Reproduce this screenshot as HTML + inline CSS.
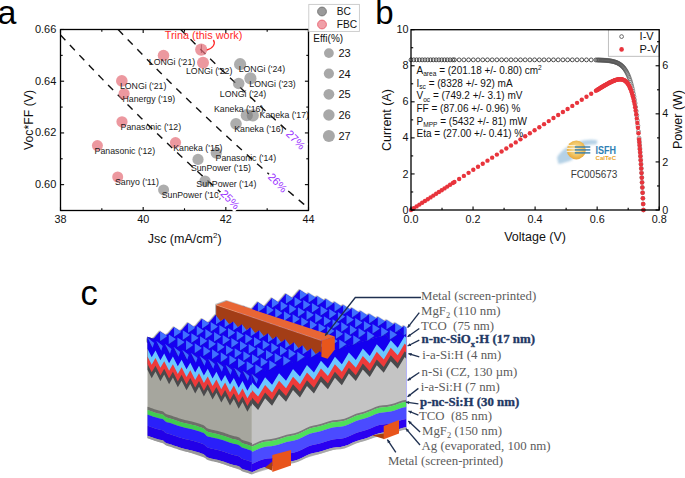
<!DOCTYPE html>
<html><head><meta charset="utf-8"><style>
html,body{margin:0;padding:0;background:#fff;}
svg{display:block;font-family:"Liberation Sans", sans-serif;}
</style></head><body>
<svg width="685" height="478" viewBox="0 0 685 478">
<rect width="685" height="478" fill="#fff"/>
<text x="-2.6" y="23.9" font-size="34" fill="#000">a</text>
<polyline points="60.5,34.94 64.74,39.52 68.97,44.07 73.21,48.6 77.45,53.1 81.68,57.58 85.92,62.04 90.16,66.47 94.39,70.88 98.63,75.26 102.87,79.62 107.1,83.96 111.34,88.28 115.58,92.57 119.81,96.85 124.05,101.1 128.29,105.32 132.52,109.53 136.76,113.71 141,117.88 145.23,122.02 149.47,126.14 153.71,130.24 157.94,134.32 162.18,138.37 166.42,142.41 170.65,146.43 174.89,150.42 179.13,154.4 183.36,158.36 187.6,162.3 191.84,166.21 196.07,170.11 200.31,173.99 204.55,177.85 208.78,181.69 213.02,185.51 217.26,189.31 221.49,193.1 225.73,196.86 229.97,200.61" fill="none" stroke="#111" stroke-width="1.4" stroke-dasharray="7.2 6.6"/>
<polyline points="118.12,29.5 122.88,34.47 127.64,39.42 132.39,44.34 137.15,49.22 141.91,54.08 146.67,58.91 151.43,63.72 156.19,68.5 160.95,73.25 165.71,77.97 170.47,82.66 175.23,87.33 179.99,91.98 184.75,96.59 189.51,101.18 194.27,105.75 199.03,110.29 203.79,114.8 208.55,119.29 213.31,123.76 218.07,128.2 222.83,132.61 227.59,137.01 232.35,141.37 237.11,145.72 241.87,150.04 246.63,154.34 251.38,158.61 256.14,162.86 260.9,167.09 265.66,171.29 270.42,175.48 275.18,179.64 279.94,183.77 284.7,187.89 289.46,191.99 294.22,196.06 298.98,200.11 303.74,204.14 308.5,208.15" fill="none" stroke="#111" stroke-width="1.4" stroke-dasharray="7.2 6.6"/>
<polyline points="180.74,29.5 183.63,32.41 186.51,35.3 189.39,38.19 192.28,41.06 195.16,43.93 198.05,46.79 200.93,49.63 203.81,52.47 206.7,55.3 209.58,58.12 212.47,60.93 215.35,63.73 218.23,66.52 221.12,69.3 224,72.07 226.89,74.83 229.77,77.59 232.65,80.33 235.54,83.07 238.42,85.79 241.31,88.51 244.19,91.22 247.07,93.92 249.96,96.61 252.84,99.29 255.72,101.96 258.61,104.63 261.49,107.28 264.38,109.93 267.26,112.57 270.14,115.2 273.03,117.82 275.91,120.43 278.8,123.04 281.68,125.63 284.56,128.22 287.45,130.8 290.33,133.37 293.22,135.94 296.1,138.49" fill="none" stroke="#111" stroke-width="1.4" stroke-dasharray="7.2 6.6"/>
<circle cx="240.1" cy="64.2" r="6.1" fill="#7a7a7a" fill-opacity="0.62"/>
<circle cx="250.4" cy="78.4" r="6.1" fill="#7a7a7a" fill-opacity="0.62"/>
<circle cx="238.7" cy="83.5" r="5.8" fill="#7a7a7a" fill-opacity="0.62"/>
<circle cx="246.8" cy="115.2" r="6.1" fill="#7a7a7a" fill-opacity="0.62"/>
<circle cx="252.8" cy="115.4" r="6.1" fill="#7a7a7a" fill-opacity="0.62"/>
<circle cx="236" cy="123.8" r="5.8" fill="#7a7a7a" fill-opacity="0.62"/>
<circle cx="216.2" cy="153" r="5.6" fill="#7a7a7a" fill-opacity="0.62"/>
<circle cx="198" cy="159.4" r="5.6" fill="#7a7a7a" fill-opacity="0.62"/>
<circle cx="205" cy="181" r="5.6" fill="#7a7a7a" fill-opacity="0.62"/>
<circle cx="163.6" cy="189.9" r="5.5" fill="#7a7a7a" fill-opacity="0.62"/>
<circle cx="201.2" cy="49.6" r="6.1" fill="#e4707a" fill-opacity="0.72"/>
<circle cx="203" cy="62.8" r="6" fill="#e4707a" fill-opacity="0.72"/>
<circle cx="163.5" cy="55.5" r="5.8" fill="#e4707a" fill-opacity="0.72"/>
<circle cx="121.8" cy="80.9" r="5.8" fill="#e4707a" fill-opacity="0.72"/>
<circle cx="124.1" cy="93.8" r="5.6" fill="#e4707a" fill-opacity="0.72"/>
<circle cx="122" cy="121.8" r="5.6" fill="#e4707a" fill-opacity="0.72"/>
<circle cx="97.4" cy="145.6" r="5.5" fill="#e4707a" fill-opacity="0.72"/>
<circle cx="175.5" cy="142.6" r="5.6" fill="#e4707a" fill-opacity="0.72"/>
<circle cx="117.7" cy="177" r="5.5" fill="#e4707a" fill-opacity="0.72"/>
<line x1="201.4" y1="44.5" x2="201.4" y2="53" stroke="#a04050" stroke-width="0.6"/>
<text x="148.8" y="65" font-size="8.75" fill="#1a1a1a">LONGi (&#39;21)</text>
<text x="186" y="74.3" font-size="8.75" fill="#1a1a1a">LONGi (&#39;22)</text>
<text x="119.9" y="89" font-size="8.75" fill="#1a1a1a">LONGi (&#39;21)</text>
<text x="122.5" y="101.9" font-size="8.75" fill="#1a1a1a">Hanergy (&#39;19)</text>
<text x="120.6" y="130" font-size="8.75" fill="#1a1a1a">Panasonic (&#39;12)</text>
<text x="94.6" y="153.6" font-size="8.75" fill="#1a1a1a">Panasonic (&#39;12)</text>
<text x="173.2" y="151.2" font-size="8.75" fill="#1a1a1a">Kaneka (&#39;15)</text>
<text x="190.9" y="171" font-size="8.75" fill="#1a1a1a">SunPower (&#39;15)</text>
<text x="215.6" y="160.8" font-size="8.75" fill="#1a1a1a">Panasonic (&#39;14)</text>
<text x="196.3" y="187.1" font-size="8.75" fill="#1a1a1a">SunPower (&#39;14)</text>
<text x="115" y="184.9" font-size="8.75" fill="#1a1a1a">Sanyo (&#39;11)</text>
<text x="161.7" y="197.7" font-size="8.75" fill="#1a1a1a">SunPower (&#39;10)</text>
<text x="238.7" y="72" font-size="8.75" fill="#1a1a1a">LONGi (&#39;24)</text>
<text x="249.3" y="86.5" font-size="8.75" fill="#1a1a1a">LONGi (&#39;23)</text>
<text x="219.8" y="96.8" font-size="8.75" fill="#1a1a1a">LONGi (&#39;24)</text>
<text x="214" y="111.5" font-size="8.75" fill="#1a1a1a">Kaneka (&#39;16)</text>
<text x="259.6" y="117.6" font-size="8.75" fill="#1a1a1a">Kaneka (&#39;17)</text>
<text x="234.2" y="131.7" font-size="8.75" fill="#1a1a1a">Kaneka (&#39;16)</text>
<text x="203.5" y="38.8" font-size="10.9" fill="#ff2a2a" text-anchor="middle">Trina (this work)</text>
<path d="M213.3,40 C216,43.5 213,48.5 206.8,50" fill="none" stroke="#ff2a2a" stroke-width="1.3"/>
<rect x="60.5" y="29.5" width="248.0" height="181.0" fill="none" stroke="#000" stroke-width="1.3"/>
<line x1="60.5" y1="210.5" x2="60.5" y2="206.9" stroke="#000" stroke-width="1.1"/>
<line x1="60.5" y1="29.5" x2="60.5" y2="33.1" stroke="#000" stroke-width="1.1"/>
<line x1="101.83" y1="210.5" x2="101.83" y2="208.3" stroke="#000" stroke-width="1.1"/>
<line x1="101.83" y1="29.5" x2="101.83" y2="31.7" stroke="#000" stroke-width="1.1"/>
<line x1="143.17" y1="210.5" x2="143.17" y2="206.9" stroke="#000" stroke-width="1.1"/>
<line x1="143.17" y1="29.5" x2="143.17" y2="33.1" stroke="#000" stroke-width="1.1"/>
<line x1="184.5" y1="210.5" x2="184.5" y2="208.3" stroke="#000" stroke-width="1.1"/>
<line x1="184.5" y1="29.5" x2="184.5" y2="31.7" stroke="#000" stroke-width="1.1"/>
<line x1="225.83" y1="210.5" x2="225.83" y2="206.9" stroke="#000" stroke-width="1.1"/>
<line x1="225.83" y1="29.5" x2="225.83" y2="33.1" stroke="#000" stroke-width="1.1"/>
<line x1="267.17" y1="210.5" x2="267.17" y2="208.3" stroke="#000" stroke-width="1.1"/>
<line x1="267.17" y1="29.5" x2="267.17" y2="31.7" stroke="#000" stroke-width="1.1"/>
<line x1="308.5" y1="210.5" x2="308.5" y2="206.9" stroke="#000" stroke-width="1.1"/>
<line x1="308.5" y1="29.5" x2="308.5" y2="33.1" stroke="#000" stroke-width="1.1"/>
<line x1="60.5" y1="210.5" x2="62.7" y2="210.5" stroke="#000" stroke-width="1.1"/>
<line x1="308.5" y1="210.5" x2="306.3" y2="210.5" stroke="#000" stroke-width="1.1"/>
<line x1="60.5" y1="184.64" x2="64.1" y2="184.64" stroke="#000" stroke-width="1.1"/>
<line x1="308.5" y1="184.64" x2="304.9" y2="184.64" stroke="#000" stroke-width="1.1"/>
<line x1="60.5" y1="158.79" x2="62.7" y2="158.79" stroke="#000" stroke-width="1.1"/>
<line x1="308.5" y1="158.79" x2="306.3" y2="158.79" stroke="#000" stroke-width="1.1"/>
<line x1="60.5" y1="132.93" x2="64.1" y2="132.93" stroke="#000" stroke-width="1.1"/>
<line x1="308.5" y1="132.93" x2="304.9" y2="132.93" stroke="#000" stroke-width="1.1"/>
<line x1="60.5" y1="107.07" x2="62.7" y2="107.07" stroke="#000" stroke-width="1.1"/>
<line x1="308.5" y1="107.07" x2="306.3" y2="107.07" stroke="#000" stroke-width="1.1"/>
<line x1="60.5" y1="81.21" x2="64.1" y2="81.21" stroke="#000" stroke-width="1.1"/>
<line x1="308.5" y1="81.21" x2="304.9" y2="81.21" stroke="#000" stroke-width="1.1"/>
<line x1="60.5" y1="55.36" x2="62.7" y2="55.36" stroke="#000" stroke-width="1.1"/>
<line x1="308.5" y1="55.36" x2="306.3" y2="55.36" stroke="#000" stroke-width="1.1"/>
<line x1="60.5" y1="29.5" x2="64.1" y2="29.5" stroke="#000" stroke-width="1.1"/>
<line x1="308.5" y1="29.5" x2="304.9" y2="29.5" stroke="#000" stroke-width="1.1"/>
<text x="60.5" y="222.6" font-size="10.8" fill="#111" text-anchor="middle">38</text>
<text x="143.17" y="222.6" font-size="10.8" fill="#111" text-anchor="middle">40</text>
<text x="225.83" y="222.6" font-size="10.8" fill="#111" text-anchor="middle">42</text>
<text x="308.5" y="222.6" font-size="10.8" fill="#111" text-anchor="middle">44</text>
<text x="56.3" y="188.04" font-size="11" fill="#111" text-anchor="end">0.60</text>
<text x="56.3" y="136.33" font-size="11" fill="#111" text-anchor="end">0.62</text>
<text x="56.3" y="84.61" font-size="11" fill="#111" text-anchor="end">0.64</text>
<text x="56.3" y="32.9" font-size="11" fill="#111" text-anchor="end">0.66</text>
<g transform="rotate(46 230.2 199.4)"><rect x="218.2" y="193.4" width="24" height="12" fill="#fff"/><text x="230.2" y="203.3" font-size="11" fill="#9a30ff" text-anchor="middle">25%</text></g>
<g transform="rotate(46 277.6 182.6)"><rect x="265.6" y="176.6" width="24" height="12" fill="#fff"/><text x="277.6" y="186.5" font-size="11" fill="#9a30ff" text-anchor="middle">26%</text></g>
<g transform="rotate(46 295.6 139.6)"><rect x="283.6" y="133.6" width="24" height="12" fill="#fff"/><text x="295.6" y="143.5" font-size="11" fill="#9a30ff" text-anchor="middle">27%</text></g>
<text x="184.6" y="242.9" font-size="12.5" fill="#111" text-anchor="middle">Jsc (mA/cm<tspan font-size="8" dy="-4.5">2</tspan><tspan dy="4.5">)</tspan></text>
<text transform="translate(32.6 120) rotate(-90)" font-size="12.3" fill="#111" text-anchor="middle">Voc*FF (V)</text>
<rect x="308.8" y="4.4" width="50.6" height="27" fill="#fff" stroke="#c8c8c8" stroke-width="0.9"/>
<circle cx="322" cy="11.5" r="4.4" fill="#9a9a9a" stroke="#707070" stroke-width="0.9"/>
<circle cx="322" cy="24.5" r="4.4" fill="#f0a0a8" stroke="#e8606e" stroke-width="0.9"/>
<text x="336.8" y="14.9" font-size="10.2" fill="#111">BC</text>
<text x="336.8" y="27.8" font-size="10.2" fill="#111">FBC</text>
<text x="313.3" y="41.5" font-size="10" fill="#111">Effi(%)</text>
<circle cx="328.9" cy="53.1" r="4.9" fill="#a8a8a8"/>
<text x="338.4" y="57.1" font-size="11" fill="#111">23</text>
<circle cx="328.9" cy="73.6" r="5.1" fill="#a8a8a8"/>
<text x="338.4" y="77.6" font-size="11" fill="#111">24</text>
<circle cx="328.9" cy="94.3" r="5.4" fill="#a8a8a8"/>
<text x="338.4" y="98.3" font-size="11" fill="#111">25</text>
<circle cx="328.9" cy="115" r="5.7" fill="#a8a8a8"/>
<text x="338.4" y="119" font-size="11" fill="#111">26</text>
<circle cx="328.9" cy="136.1" r="6.0" fill="#a8a8a8"/>
<text x="338.4" y="140.1" font-size="11" fill="#111">27</text>
<text x="375.3" y="23.6" font-size="33" fill="#000">b</text>
<g fill="none" stroke="#3a3a3a" stroke-width="0.9"><circle cx="411" cy="59.85" r="1.95"/><circle cx="413.79" cy="59.85" r="1.95"/><circle cx="416.58" cy="59.85" r="1.95"/><circle cx="419.38" cy="59.85" r="1.95"/><circle cx="422.17" cy="59.85" r="1.95"/><circle cx="424.96" cy="59.85" r="1.95"/><circle cx="427.75" cy="59.85" r="1.95"/><circle cx="430.55" cy="59.85" r="1.95"/><circle cx="433.34" cy="59.85" r="1.95"/><circle cx="436.13" cy="59.85" r="1.95"/><circle cx="438.92" cy="59.85" r="1.95"/><circle cx="441.71" cy="59.85" r="1.95"/><circle cx="444.51" cy="59.85" r="1.95"/><circle cx="447.3" cy="59.85" r="1.95"/><circle cx="450.09" cy="59.85" r="1.95"/><circle cx="452.88" cy="59.85" r="1.95"/><circle cx="454.44" cy="59.85" r="1.95"/><circle cx="459.15" cy="59.85" r="1.95"/><circle cx="463.87" cy="59.85" r="1.95"/><circle cx="468.58" cy="59.85" r="1.95"/><circle cx="473.3" cy="59.85" r="1.95"/><circle cx="478.01" cy="59.85" r="1.95"/><circle cx="482.73" cy="59.85" r="1.95"/><circle cx="487.45" cy="59.85" r="1.95"/><circle cx="492.16" cy="59.85" r="1.95"/><circle cx="496.88" cy="59.85" r="1.95"/><circle cx="501.59" cy="59.85" r="1.95"/><circle cx="506.31" cy="59.85" r="1.95"/><circle cx="511.02" cy="59.85" r="1.95"/><circle cx="515.74" cy="59.85" r="1.95"/><circle cx="520.46" cy="59.85" r="1.95"/><circle cx="525.17" cy="59.85" r="1.95"/><circle cx="529.89" cy="59.85" r="1.95"/><circle cx="534.6" cy="59.85" r="1.95"/><circle cx="539.32" cy="59.85" r="1.95"/><circle cx="544.04" cy="59.85" r="1.95"/><circle cx="548.75" cy="59.85" r="1.95"/><circle cx="553.47" cy="59.85" r="1.95"/><circle cx="558.18" cy="59.85" r="1.95"/><circle cx="562.9" cy="59.85" r="1.95"/><circle cx="567.61" cy="59.85" r="1.95"/><circle cx="572.33" cy="59.85" r="1.95"/><circle cx="577.05" cy="59.85" r="1.95"/><circle cx="581.76" cy="59.86" r="1.95"/><circle cx="586.48" cy="59.88" r="1.95"/><circle cx="591.19" cy="59.91" r="1.95"/><circle cx="595.91" cy="59.97" r="1.95"/></g>
<g fill="none" stroke="#555" stroke-width="0.6"><circle cx="597.15" cy="60" r="1.95"/><circle cx="597.71" cy="60.01" r="1.95"/><circle cx="598.27" cy="60.02" r="1.95"/><circle cx="598.83" cy="60.04" r="1.95"/><circle cx="599.38" cy="60.06" r="1.95"/><circle cx="599.94" cy="60.07" r="1.95"/><circle cx="600.5" cy="60.09" r="1.95"/><circle cx="601.06" cy="60.12" r="1.95"/><circle cx="601.62" cy="60.14" r="1.95"/><circle cx="602.18" cy="60.16" r="1.95"/><circle cx="602.73" cy="60.19" r="1.95"/><circle cx="603.29" cy="60.22" r="1.95"/><circle cx="603.85" cy="60.25" r="1.95"/><circle cx="604.41" cy="60.29" r="1.95"/><circle cx="604.97" cy="60.33" r="1.95"/><circle cx="605.53" cy="60.37" r="1.95"/><circle cx="606.09" cy="60.42" r="1.95"/><circle cx="606.64" cy="60.47" r="1.95"/><circle cx="607.2" cy="60.52" r="1.95"/><circle cx="607.76" cy="60.58" r="1.95"/><circle cx="608.32" cy="60.64" r="1.95"/><circle cx="608.88" cy="60.71" r="1.95"/><circle cx="609.44" cy="60.79" r="1.95"/><circle cx="609.99" cy="60.87" r="1.95"/><circle cx="610.55" cy="60.96" r="1.95"/><circle cx="611.11" cy="61.05" r="1.95"/><circle cx="611.67" cy="61.16" r="1.95"/><circle cx="612.23" cy="61.27" r="1.95"/><circle cx="612.79" cy="61.4" r="1.95"/><circle cx="613.35" cy="61.53" r="1.95"/><circle cx="613.9" cy="61.68" r="1.95"/><circle cx="614.46" cy="61.84" r="1.95"/><circle cx="615.02" cy="62.01" r="1.95"/><circle cx="615.58" cy="62.2" r="1.95"/><circle cx="616.14" cy="62.4" r="1.95"/><circle cx="616.7" cy="62.62" r="1.95"/><circle cx="617.25" cy="62.86" r="1.95"/><circle cx="617.81" cy="63.13" r="1.95"/><circle cx="618.37" cy="63.41" r="1.95"/><circle cx="618.93" cy="63.72" r="1.95"/><circle cx="619.49" cy="64.06" r="1.95"/><circle cx="620.05" cy="64.42" r="1.95"/><circle cx="620.6" cy="64.82" r="1.95"/><circle cx="621.16" cy="65.25" r="1.95"/><circle cx="621.72" cy="65.72" r="1.95"/><circle cx="622.28" cy="66.23" r="1.95"/><circle cx="622.84" cy="66.79" r="1.95"/><circle cx="623.4" cy="67.39" r="1.95"/><circle cx="623.96" cy="68.05" r="1.95"/><circle cx="624.51" cy="68.76" r="1.95"/><circle cx="625.07" cy="69.53" r="1.95"/><circle cx="625.63" cy="70.38" r="1.95"/><circle cx="626.19" cy="71.29" r="1.95"/><circle cx="626.75" cy="72.29" r="1.95"/><circle cx="627.31" cy="73.37" r="1.95"/><circle cx="627.86" cy="74.54" r="1.95"/><circle cx="628.42" cy="75.82" r="1.95"/><circle cx="628.98" cy="77.21" r="1.95"/><circle cx="629.54" cy="78.72" r="1.95"/><circle cx="630.1" cy="80.36" r="1.95"/><circle cx="630.66" cy="82.14" r="1.95"/><circle cx="631.22" cy="84.08" r="1.95"/><circle cx="631.77" cy="86.18" r="1.95"/><circle cx="632.33" cy="88.47" r="1.95"/><circle cx="632.89" cy="90.96" r="1.95"/><circle cx="633.45" cy="93.66" r="1.95"/><circle cx="634.01" cy="96.6" r="1.95"/><circle cx="634.57" cy="99.79" r="1.95"/><circle cx="635.12" cy="103.27" r="1.95"/><circle cx="635.68" cy="107.04" r="1.95"/><circle cx="636.24" cy="111.14" r="1.95"/><circle cx="636.8" cy="115.6" r="1.95"/><circle cx="637.36" cy="120.44" r="1.95"/><circle cx="637.92" cy="125.71" r="1.95"/><circle cx="638.48" cy="131.43" r="1.95"/><circle cx="639.07" cy="138.09" r="1.95"/><circle cx="639.34" cy="141.34" r="1.95"/><circle cx="639.62" cy="144.73" r="1.95"/><circle cx="639.89" cy="148.26" r="1.95"/><circle cx="640.16" cy="151.94" r="1.95"/><circle cx="640.44" cy="155.77" r="1.95"/><circle cx="640.71" cy="159.75" r="1.95"/><circle cx="640.98" cy="163.91" r="1.95"/><circle cx="641.26" cy="168.24" r="1.95"/><circle cx="641.53" cy="172.74" r="1.95"/><circle cx="641.8" cy="177.44" r="1.95"/><circle cx="642.07" cy="182.33" r="1.95"/><circle cx="642.35" cy="187.42" r="1.95"/><circle cx="642.62" cy="192.73" r="1.95"/><circle cx="642.89" cy="198.25" r="1.95"/><circle cx="643.17" cy="204.01" r="1.95"/><circle cx="643.44" cy="210" r="1.95"/></g>
<g fill="#e8343c"><circle cx="411" cy="210" r="2.2"/><circle cx="413.79" cy="208.2" r="2.2"/><circle cx="416.58" cy="206.4" r="2.2"/><circle cx="419.38" cy="204.59" r="2.2"/><circle cx="422.17" cy="202.79" r="2.2"/><circle cx="424.96" cy="200.99" r="2.2"/><circle cx="427.75" cy="199.19" r="2.2"/><circle cx="430.55" cy="197.39" r="2.2"/><circle cx="433.34" cy="195.59" r="2.2"/><circle cx="436.13" cy="193.78" r="2.2"/><circle cx="438.92" cy="191.98" r="2.2"/><circle cx="441.71" cy="190.18" r="2.2"/><circle cx="444.51" cy="188.38" r="2.2"/><circle cx="447.3" cy="186.58" r="2.2"/><circle cx="450.09" cy="184.77" r="2.2"/><circle cx="452.88" cy="182.97" r="2.2"/><circle cx="454.44" cy="181.97" r="2.2"/><circle cx="459.15" cy="178.93" r="2.2"/><circle cx="463.87" cy="175.89" r="2.2"/><circle cx="468.58" cy="172.84" r="2.2"/><circle cx="473.3" cy="169.8" r="2.2"/><circle cx="478.01" cy="166.76" r="2.2"/><circle cx="482.73" cy="163.71" r="2.2"/><circle cx="487.45" cy="160.67" r="2.2"/><circle cx="492.16" cy="157.63" r="2.2"/><circle cx="496.88" cy="154.58" r="2.2"/><circle cx="501.59" cy="151.54" r="2.2"/><circle cx="506.31" cy="148.5" r="2.2"/><circle cx="511.02" cy="145.45" r="2.2"/><circle cx="515.74" cy="142.41" r="2.2"/><circle cx="520.46" cy="139.37" r="2.2"/><circle cx="525.17" cy="136.32" r="2.2"/><circle cx="529.89" cy="133.28" r="2.2"/><circle cx="534.6" cy="130.24" r="2.2"/><circle cx="539.32" cy="127.2" r="2.2"/><circle cx="544.04" cy="124.15" r="2.2"/><circle cx="548.75" cy="121.11" r="2.2"/><circle cx="553.47" cy="118.07" r="2.2"/><circle cx="558.18" cy="115.02" r="2.2"/><circle cx="562.9" cy="111.98" r="2.2"/><circle cx="567.61" cy="108.94" r="2.2"/><circle cx="572.33" cy="105.9" r="2.2"/><circle cx="577.05" cy="102.86" r="2.2"/><circle cx="581.76" cy="99.82" r="2.2"/><circle cx="586.48" cy="96.79" r="2.2"/><circle cx="591.19" cy="93.77" r="2.2"/><circle cx="595.91" cy="90.78" r="2.2"/><circle cx="597.15" cy="90" r="2.2"/><circle cx="597.71" cy="89.65" r="2.2"/><circle cx="598.27" cy="89.3" r="2.2"/><circle cx="598.83" cy="88.95" r="2.2"/><circle cx="599.38" cy="88.61" r="2.2"/><circle cx="599.94" cy="88.26" r="2.2"/><circle cx="600.5" cy="87.92" r="2.2"/><circle cx="601.06" cy="87.57" r="2.2"/><circle cx="601.62" cy="87.23" r="2.2"/><circle cx="602.18" cy="86.89" r="2.2"/><circle cx="602.73" cy="86.56" r="2.2"/><circle cx="603.29" cy="86.22" r="2.2"/><circle cx="603.85" cy="85.89" r="2.2"/><circle cx="604.41" cy="85.56" r="2.2"/><circle cx="604.97" cy="85.23" r="2.2"/><circle cx="605.53" cy="84.91" r="2.2"/><circle cx="606.09" cy="84.59" r="2.2"/><circle cx="606.64" cy="84.27" r="2.2"/><circle cx="607.2" cy="83.96" r="2.2"/><circle cx="607.76" cy="83.65" r="2.2"/><circle cx="608.32" cy="83.34" r="2.2"/><circle cx="608.88" cy="83.04" r="2.2"/><circle cx="609.44" cy="82.75" r="2.2"/><circle cx="609.99" cy="82.46" r="2.2"/><circle cx="610.55" cy="82.18" r="2.2"/><circle cx="611.11" cy="81.91" r="2.2"/><circle cx="611.67" cy="81.64" r="2.2"/><circle cx="612.23" cy="81.38" r="2.2"/><circle cx="612.79" cy="81.13" r="2.2"/><circle cx="613.35" cy="80.89" r="2.2"/><circle cx="613.9" cy="80.66" r="2.2"/><circle cx="614.46" cy="80.44" r="2.2"/><circle cx="615.02" cy="80.24" r="2.2"/><circle cx="615.58" cy="80.05" r="2.2"/><circle cx="616.14" cy="79.88" r="2.2"/><circle cx="616.7" cy="79.72" r="2.2"/><circle cx="617.25" cy="79.58" r="2.2"/><circle cx="617.81" cy="79.46" r="2.2"/><circle cx="618.37" cy="79.36" r="2.2"/><circle cx="618.93" cy="79.28" r="2.2"/><circle cx="619.49" cy="79.23" r="2.2"/><circle cx="620.05" cy="79.21" r="2.2"/><circle cx="620.6" cy="79.22" r="2.2"/><circle cx="621.16" cy="79.26" r="2.2"/><circle cx="621.72" cy="79.34" r="2.2"/><circle cx="622.28" cy="79.46" r="2.2"/><circle cx="622.84" cy="79.62" r="2.2"/><circle cx="623.4" cy="79.83" r="2.2"/><circle cx="623.96" cy="80.08" r="2.2"/><circle cx="624.51" cy="80.4" r="2.2"/><circle cx="625.07" cy="80.77" r="2.2"/><circle cx="625.63" cy="81.21" r="2.2"/><circle cx="626.19" cy="81.72" r="2.2"/><circle cx="626.75" cy="82.31" r="2.2"/><circle cx="627.31" cy="82.99" r="2.2"/><circle cx="627.86" cy="83.75" r="2.2"/><circle cx="628.42" cy="84.62" r="2.2"/><circle cx="628.98" cy="85.6" r="2.2"/><circle cx="629.54" cy="86.7" r="2.2"/><circle cx="630.1" cy="87.93" r="2.2"/><circle cx="630.66" cy="89.3" r="2.2"/><circle cx="631.22" cy="90.83" r="2.2"/><circle cx="631.77" cy="92.52" r="2.2"/><circle cx="632.33" cy="94.4" r="2.2"/><circle cx="632.89" cy="96.48" r="2.2"/><circle cx="633.45" cy="98.78" r="2.2"/><circle cx="634.01" cy="101.32" r="2.2"/><circle cx="634.57" cy="104.11" r="2.2"/><circle cx="635.12" cy="107.19" r="2.2"/><circle cx="635.68" cy="110.58" r="2.2"/><circle cx="636.24" cy="114.3" r="2.2"/><circle cx="636.8" cy="118.39" r="2.2"/><circle cx="637.36" cy="122.88" r="2.2"/><circle cx="637.92" cy="127.8" r="2.2"/><circle cx="638.48" cy="133.19" r="2.2"/><circle cx="639.07" cy="139.52" r="2.2"/><circle cx="639.34" cy="142.62" r="2.2"/><circle cx="639.62" cy="145.87" r="2.2"/><circle cx="639.89" cy="149.27" r="2.2"/><circle cx="640.16" cy="152.82" r="2.2"/><circle cx="640.44" cy="156.52" r="2.2"/><circle cx="640.71" cy="160.4" r="2.2"/><circle cx="640.98" cy="164.44" r="2.2"/><circle cx="641.26" cy="168.67" r="2.2"/><circle cx="641.53" cy="173.09" r="2.2"/><circle cx="641.8" cy="177.7" r="2.2"/><circle cx="642.07" cy="182.52" r="2.2"/><circle cx="642.35" cy="187.55" r="2.2"/><circle cx="642.62" cy="192.8" r="2.2"/><circle cx="642.89" cy="198.29" r="2.2"/><circle cx="643.17" cy="204.02" r="2.2"/><circle cx="643.44" cy="210" r="2.2"/></g>
<rect x="608.4" y="29.7" width="50.8" height="26.6" fill="#fff" stroke="#b8b8b8" stroke-width="0.9"/>
<circle cx="621.6" cy="36.6" r="1.9" fill="none" stroke="#4a4a4a" stroke-width="0.8"/>
<circle cx="621.6" cy="49.4" r="2.3" fill="#e8343c"/>
<text x="639.6" y="40.2" font-size="11" fill="#111">I-V</text>
<text x="639.6" y="53" font-size="11" fill="#111">P-V</text>
<rect x="411.0" y="29.7" width="248.2" height="180.3" fill="none" stroke="#000" stroke-width="1.3"/>
<line x1="411" y1="210.0" x2="411" y2="206.4" stroke="#000" stroke-width="1.1"/>
<line x1="442.02" y1="210.0" x2="442.02" y2="207.8" stroke="#000" stroke-width="1.1"/>
<line x1="473.05" y1="210.0" x2="473.05" y2="206.4" stroke="#000" stroke-width="1.1"/>
<line x1="504.08" y1="210.0" x2="504.08" y2="207.8" stroke="#000" stroke-width="1.1"/>
<line x1="535.1" y1="210.0" x2="535.1" y2="206.4" stroke="#000" stroke-width="1.1"/>
<line x1="566.12" y1="210.0" x2="566.12" y2="207.8" stroke="#000" stroke-width="1.1"/>
<line x1="597.15" y1="210.0" x2="597.15" y2="206.4" stroke="#000" stroke-width="1.1"/>
<line x1="628.18" y1="210.0" x2="628.18" y2="207.8" stroke="#000" stroke-width="1.1"/>
<line x1="659.2" y1="210.0" x2="659.2" y2="206.4" stroke="#000" stroke-width="1.1"/>
<line x1="411.0" y1="210" x2="414.6" y2="210" stroke="#000" stroke-width="1.1"/>
<line x1="411.0" y1="191.97" x2="413.2" y2="191.97" stroke="#000" stroke-width="1.1"/>
<line x1="411.0" y1="173.94" x2="414.6" y2="173.94" stroke="#000" stroke-width="1.1"/>
<line x1="411.0" y1="155.91" x2="413.2" y2="155.91" stroke="#000" stroke-width="1.1"/>
<line x1="411.0" y1="137.88" x2="414.6" y2="137.88" stroke="#000" stroke-width="1.1"/>
<line x1="411.0" y1="119.85" x2="413.2" y2="119.85" stroke="#000" stroke-width="1.1"/>
<line x1="411.0" y1="101.82" x2="414.6" y2="101.82" stroke="#000" stroke-width="1.1"/>
<line x1="411.0" y1="83.79" x2="413.2" y2="83.79" stroke="#000" stroke-width="1.1"/>
<line x1="411.0" y1="65.76" x2="414.6" y2="65.76" stroke="#000" stroke-width="1.1"/>
<line x1="411.0" y1="47.73" x2="413.2" y2="47.73" stroke="#000" stroke-width="1.1"/>
<line x1="411.0" y1="29.7" x2="414.6" y2="29.7" stroke="#000" stroke-width="1.1"/>
<line x1="659.2" y1="210" x2="655.6" y2="210" stroke="#000" stroke-width="1.1"/>
<line x1="659.2" y1="185.96" x2="657" y2="185.96" stroke="#000" stroke-width="1.1"/>
<line x1="659.2" y1="161.92" x2="655.6" y2="161.92" stroke="#000" stroke-width="1.1"/>
<line x1="659.2" y1="137.88" x2="657" y2="137.88" stroke="#000" stroke-width="1.1"/>
<line x1="659.2" y1="113.84" x2="655.6" y2="113.84" stroke="#000" stroke-width="1.1"/>
<line x1="659.2" y1="89.8" x2="657" y2="89.8" stroke="#000" stroke-width="1.1"/>
<line x1="659.2" y1="65.76" x2="655.6" y2="65.76" stroke="#000" stroke-width="1.1"/>
<line x1="659.2" y1="41.72" x2="657" y2="41.72" stroke="#000" stroke-width="1.1"/>
<text x="411" y="223.3" font-size="10.8" fill="#111" text-anchor="middle">0.0</text>
<text x="473.05" y="223.3" font-size="10.8" fill="#111" text-anchor="middle">0.2</text>
<text x="535.1" y="223.3" font-size="10.8" fill="#111" text-anchor="middle">0.4</text>
<text x="597.15" y="223.3" font-size="10.8" fill="#111" text-anchor="middle">0.6</text>
<text x="659.2" y="223.3" font-size="10.8" fill="#111" text-anchor="middle">0.8</text>
<text x="408.6" y="213.6" font-size="10.8" fill="#111" text-anchor="end">0</text>
<text x="408.6" y="177.54" font-size="10.8" fill="#111" text-anchor="end">2</text>
<text x="408.6" y="141.48" font-size="10.8" fill="#111" text-anchor="end">4</text>
<text x="408.6" y="105.42" font-size="10.8" fill="#111" text-anchor="end">6</text>
<text x="408.6" y="69.36" font-size="10.8" fill="#111" text-anchor="end">8</text>
<text x="408.6" y="33.3" font-size="10.8" fill="#111" text-anchor="end">10</text>
<text x="662.3" y="213.6" font-size="10.8" fill="#111">0</text>
<text x="662.3" y="165.52" font-size="10.8" fill="#111">2</text>
<text x="662.3" y="117.44" font-size="10.8" fill="#111">4</text>
<text x="662.3" y="69.36" font-size="10.8" fill="#111">6</text>
<text x="535.1" y="240.9" font-size="12.5" fill="#111" text-anchor="middle">Voltage (V)</text>
<text transform="translate(391.3 120) rotate(-90)" font-size="12.5" fill="#111" text-anchor="middle">Current (A)</text>
<text transform="translate(681.6 119.5) rotate(-90)" font-size="12.5" fill="#111" text-anchor="middle">Power (W)</text>
<text x="416.5" y="73.9" font-size="10" fill="#111">A<tspan font-size="6.6" dy="2.4">area</tspan><tspan dy="-2.4"> = (201.18 +/- 0.80) cm</tspan><tspan font-size="6.6" dy="-3.6">2</tspan></text>
<text x="416.5" y="86.55" font-size="10" fill="#111">I<tspan font-size="6.6" dy="2.4">sc</tspan><tspan dy="-2.4"> = (8328 +/- 92) mA</tspan></text>
<text x="416.5" y="99.2" font-size="10" fill="#111">V<tspan font-size="6.6" dy="2.4">oc</tspan><tspan dy="-2.4"> = (749.2 +/- 3.1) mV</tspan></text>
<text x="416.5" y="111.85" font-size="10" fill="#111">FF = (87.06 +/- 0.96) %</text>
<text x="416.5" y="124.5" font-size="10" fill="#111">P<tspan font-size="6.6" dy="2.4">MPP</tspan><tspan dy="-2.4"> = (5432 +/- 81) mW</tspan></text>
<text x="416.5" y="137.15" font-size="10" fill="#111">Eta = (27.00 +/- 0.41) %</text>
<g>
<defs><filter id="blr" x="-20%" y="-50%" width="140%" height="200%"><feGaussianBlur stdDeviation="0.9"/></filter>
<radialGradient id="sun" cx="0.5" cy="0.45" r="0.55"><stop offset="0" stop-color="#f8e4b0"/><stop offset="0.6" stop-color="#f1c666"/><stop offset="1" stop-color="#e8a636"/></radialGradient></defs>
<path d="M557,157.5 C561,150 570,144 582,140.8 C588,139.5 594,139.4 597.5,140.4 L596.5,144.5 C590,144 584,145.5 578,148.5 L572,160 C567,162 562,163.5 558.5,164 Z" fill="#a3c6e0" opacity="0.8" filter="url(#blr)"/>
<circle cx="576.3" cy="149.9" r="9.5" fill="url(#sun)"/>
<g stroke="#fbf3e2" stroke-width="1.0"><line x1="566.6" y1="148.4" x2="575.5" y2="148.4"/><line x1="566.6" y1="151.4" x2="575.5" y2="151.4"/><line x1="567.5" y1="145.6" x2="575.5" y2="145.6"/></g>
<g stroke="#3a7faa" stroke-width="1.45"><line x1="574.8" y1="147" x2="590.3" y2="147"/><line x1="574.8" y1="149.9" x2="590.3" y2="149.9"/><line x1="574.8" y1="152.9" x2="590.3" y2="152.9"/></g>
<text x="595.6" y="154.3" font-size="11.6" font-weight="bold" fill="#2f80b4" textLength="20.5" lengthAdjust="spacingAndGlyphs">ISFH</text>
<text x="595.6" y="160.2" font-size="5.2" font-weight="bold" fill="#eba52a" textLength="20.5" lengthAdjust="spacingAndGlyphs">CalTeC</text>
</g>
<text x="570.7" y="177.6" font-size="10" fill="#3a3a3a">FC005673</text>
<text x="80.6" y="305" font-size="34.5" fill="#000">c</text>
<polygon points="147.5,337.7 251.9,374.3 251.9,474 147.5,438" fill="#a6a69e"/>
<polygon points="251.9,374.3 406.23,329.75 406.23,428.25 251.9,474" fill="#c4c4c4"/>
<polygon points="147.5,369.84 151.7,378.17 155.5,371.5 160.4,381.22 164.2,374.55 169.1,384.27 172.9,377.6 177.8,387.32 181.6,380.65 186.5,390.37 190.3,383.7 195.2,393.42 199,386.75 203.9,396.47 207.7,389.8 212.6,399.52 216.4,392.85 221.3,402.57 225.1,395.9 230,405.62 233.8,398.95 238.7,408.67 242.5,402 247.4,411.72 251.2,405.05 251.9,406.44 251.9,373.3 147.5,336.7" fill="#4a4a4c"/>
<polygon points="251.9,403.28 258.1,410 265.1,398.33 272.06,405.87 279.06,394.2 286.02,401.74 293.02,390.06 299.98,397.6 306.98,385.93 313.94,393.47 320.94,381.8 327.9,389.34 334.9,377.67 341.86,385.21 348.86,373.54 355.82,381.07 362.82,369.4 369.78,376.94 376.78,365.27 383.74,372.81 390.74,361.14 397.7,368.68 404.7,357.01 406.23,358.66 406.23,328.75 251.9,373.3" fill="#4a4a4c"/>
<polygon points="147.5,364.04 151.7,372.37 155.5,365.7 160.4,375.42 164.2,368.75 169.1,378.47 172.9,371.8 177.8,381.52 181.6,374.85 186.5,384.57 190.3,377.9 195.2,387.62 199,380.95 203.9,390.67 207.7,384 212.6,393.72 216.4,387.05 221.3,396.77 225.1,390.1 230,399.82 233.8,393.15 238.7,402.87 242.5,396.2 247.4,405.92 251.2,399.25 251.9,400.64 251.9,373.3 147.5,336.7" fill="#ee3a3a"/>
<polygon points="251.9,397.48 258.1,404.2 265.1,392.53 272.06,400.07 279.06,388.4 286.02,395.94 293.02,384.26 299.98,391.8 306.98,380.13 313.94,387.67 320.94,376 327.9,383.54 334.9,371.87 341.86,379.41 348.86,367.74 355.82,375.27 362.82,363.6 369.78,371.14 376.78,359.47 383.74,367.01 390.74,355.34 397.7,362.88 404.7,351.21 406.23,352.86 406.23,328.75 251.9,373.3" fill="#ee3a3a"/>
<polygon points="147.5,356.44 151.7,364.77 155.5,358.1 160.4,367.82 164.2,361.15 169.1,370.87 172.9,364.2 177.8,373.92 181.6,367.25 186.5,376.97 190.3,370.3 195.2,380.02 199,373.35 203.9,383.07 207.7,376.4 212.6,386.12 216.4,379.45 221.3,389.17 225.1,382.5 230,392.22 233.8,385.55 238.7,395.27 242.5,388.6 247.4,398.32 251.2,391.65 251.9,393.04 251.9,373.3 147.5,336.7" fill="#6cc8ff"/>
<polygon points="251.9,389.88 258.1,396.6 265.1,384.93 272.06,392.47 279.06,380.8 286.02,388.34 293.02,376.66 299.98,384.2 306.98,372.53 313.94,380.07 320.94,368.4 327.9,375.94 334.9,364.27 341.86,371.81 348.86,360.14 355.82,367.67 362.82,356 369.78,363.54 376.78,351.87 383.74,359.41 390.74,347.74 397.7,355.28 404.7,343.61 406.23,345.26 406.23,328.75 251.9,373.3" fill="#6cc8ff"/>
<polygon points="147.5,348.84 151.7,357.17 155.5,350.5 160.4,360.22 164.2,353.55 169.1,363.27 172.9,356.6 177.8,366.32 181.6,359.65 186.5,369.37 190.3,362.7 195.2,372.42 199,365.75 203.9,375.47 207.7,368.8 212.6,378.52 216.4,371.85 221.3,381.57 225.1,374.9 230,384.62 233.8,377.95 238.7,387.67 242.5,381 247.4,390.72 251.2,384.05 251.9,385.44 251.9,373.3 147.5,336.7" fill="#1400f0"/>
<polygon points="251.9,382.28 258.1,389 265.1,377.33 272.06,384.87 279.06,373.2 286.02,380.74 293.02,369.06 299.98,376.6 306.98,364.93 313.94,372.47 320.94,360.8 327.9,368.34 334.9,356.67 341.86,364.21 348.86,352.54 355.82,360.07 362.82,348.4 369.78,355.94 376.78,344.27 383.74,351.81 390.74,340.14 397.7,347.68 404.7,336.01 406.23,337.66 406.23,328.75 251.9,373.3" fill="#1400f0"/>
<polygon points="147.5,406.77 149.24,407.37 150.98,407.99 152.72,408.6 154.46,409.19 156.2,409.74 157.94,410.23 159.68,410.66 161.42,411.06 163.16,411.54 164.9,413.18 166.64,414.37 168.38,414.79 170.12,415.27 171.86,415.8 173.6,416.38 175.34,416.99 177.08,417.61 178.82,418.22 180.56,418.78 182.3,419.3 184.04,419.76 185.78,420.17 187.52,420.54 189.26,420.9 191,421.27 192.74,421.68 194.48,422.13 196.22,422.64 197.96,423.2 199.7,423.8 201.44,424.42 203.18,425.03 204.92,426.29 206.66,428.11 208.4,428.84 210.14,429.27 211.88,429.66 213.62,430.02 215.36,430.39 217.1,430.77 218.84,431.2 220.58,431.69 222.32,432.23 224.06,432.81 225.8,433.42 227.54,434.04 229.28,434.64 231.02,435.2 232.76,435.71 234.5,436.17 236.24,436.57 237.98,436.94 239.72,437.83 241.46,439.48 243.2,440.29 244.94,440.75 246.68,441.26 248.42,441.83 250.16,442.43 251.9,443.05 251.9,446.25 250.16,445.63 248.42,445.03 246.68,444.46 244.94,443.95 243.2,443.49 241.46,442.68 239.72,441.03 237.98,440.14 236.24,439.77 234.5,439.37 232.76,438.91 231.02,438.4 229.28,437.84 227.54,437.24 225.8,436.62 224.06,436.01 222.32,435.43 220.58,434.89 218.84,434.4 217.1,433.97 215.36,433.59 213.62,433.22 211.88,432.86 210.14,432.47 208.4,432.04 206.66,431.31 204.92,429.49 203.18,428.23 201.44,427.62 199.7,427 197.96,426.4 196.22,425.84 194.48,425.33 192.74,424.88 191,424.47 189.26,424.1 187.52,423.74 185.78,423.37 184.04,422.96 182.3,422.5 180.56,421.98 178.82,421.42 177.08,420.81 175.34,420.19 173.6,419.58 171.86,419 170.12,418.47 168.38,417.99 166.64,417.57 164.9,416.38 163.16,414.74 161.42,414.26 159.68,413.86 157.94,413.43 156.2,412.94 154.46,412.39 152.72,411.8 150.98,411.19 149.24,410.57 147.5,409.97" fill="#6e6e6a"/>
<polygon points="147.5,409.97 149.24,410.57 150.98,411.19 152.72,411.8 154.46,412.39 156.2,412.94 157.94,413.43 159.68,413.86 161.42,414.26 163.16,414.74 164.9,416.38 166.64,417.57 168.38,417.99 170.12,418.47 171.86,419 173.6,419.58 175.34,420.19 177.08,420.81 178.82,421.42 180.56,421.98 182.3,422.5 184.04,422.96 185.78,423.37 187.52,423.74 189.26,424.1 191,424.47 192.74,424.88 194.48,425.33 196.22,425.84 197.96,426.4 199.7,427 201.44,427.62 203.18,428.23 204.92,429.49 206.66,431.31 208.4,432.04 210.14,432.47 211.88,432.86 213.62,433.22 215.36,433.59 217.1,433.97 218.84,434.4 220.58,434.89 222.32,435.43 224.06,436.01 225.8,436.62 227.54,437.24 229.28,437.84 231.02,438.4 232.76,438.91 234.5,439.37 236.24,439.77 237.98,440.14 239.72,441.03 241.46,442.68 243.2,443.49 244.94,443.95 246.68,444.46 248.42,445.03 250.16,445.63 251.9,446.25 251.9,450.85 250.16,450.23 248.42,449.63 246.68,449.06 244.94,448.55 243.2,448.09 241.46,447.28 239.72,445.63 237.98,444.74 236.24,444.37 234.5,443.97 232.76,443.51 231.02,443 229.28,442.44 227.54,441.84 225.8,441.22 224.06,440.61 222.32,440.03 220.58,439.49 218.84,439 217.1,438.57 215.36,438.19 213.62,437.82 211.88,437.46 210.14,437.07 208.4,436.64 206.66,435.91 204.92,434.09 203.18,432.83 201.44,432.22 199.7,431.6 197.96,431 196.22,430.44 194.48,429.93 192.74,429.48 191,429.07 189.26,428.7 187.52,428.34 185.78,427.97 184.04,427.56 182.3,427.1 180.56,426.58 178.82,426.02 177.08,425.41 175.34,424.79 173.6,424.18 171.86,423.6 170.12,423.07 168.38,422.59 166.64,422.17 164.9,420.98 163.16,419.34 161.42,418.86 159.68,418.46 157.94,418.03 156.2,417.54 154.46,416.99 152.72,416.4 150.98,415.79 149.24,415.17 147.5,414.57" fill="#40cc50"/>
<polygon points="147.5,414.57 149.24,415.17 150.98,415.79 152.72,416.4 154.46,416.99 156.2,417.54 157.94,418.03 159.68,418.46 161.42,418.86 163.16,419.34 164.9,420.98 166.64,422.17 168.38,422.59 170.12,423.07 171.86,423.6 173.6,424.18 175.34,424.79 177.08,425.41 178.82,426.02 180.56,426.58 182.3,427.1 184.04,427.56 185.78,427.97 187.52,428.34 189.26,428.7 191,429.07 192.74,429.48 194.48,429.93 196.22,430.44 197.96,431 199.7,431.6 201.44,432.22 203.18,432.83 204.92,434.09 206.66,435.91 208.4,436.64 210.14,437.07 211.88,437.46 213.62,437.82 215.36,438.19 217.1,438.57 218.84,439 220.58,439.49 222.32,440.03 224.06,440.61 225.8,441.22 227.54,441.84 229.28,442.44 231.02,443 232.76,443.51 234.5,443.97 236.24,444.37 237.98,444.74 239.72,445.63 241.46,447.28 243.2,448.09 244.94,448.55 246.68,449.06 248.42,449.63 250.16,450.23 251.9,450.85 251.9,462.05 250.16,461.43 248.42,460.83 246.68,460.26 244.94,459.75 243.2,459.29 241.46,458.48 239.72,456.83 237.98,455.94 236.24,455.57 234.5,455.17 232.76,454.71 231.02,454.2 229.28,453.64 227.54,453.04 225.8,452.42 224.06,451.81 222.32,451.23 220.58,450.69 218.84,450.2 217.1,449.77 215.36,449.39 213.62,449.02 211.88,448.66 210.14,448.27 208.4,447.84 206.66,447.11 204.92,445.29 203.18,444.03 201.44,443.42 199.7,442.8 197.96,442.2 196.22,441.64 194.48,441.13 192.74,440.68 191,440.27 189.26,439.9 187.52,439.54 185.78,439.17 184.04,438.76 182.3,438.3 180.56,437.78 178.82,437.22 177.08,436.61 175.34,435.99 173.6,435.38 171.86,434.8 170.12,434.27 168.38,433.79 166.64,433.37 164.9,432.18 163.16,430.54 161.42,430.06 159.68,429.66 157.94,429.23 156.2,428.74 154.46,428.19 152.72,427.6 150.98,426.99 149.24,426.37 147.5,425.77" fill="#2a20fa"/>
<polygon points="147.5,425.77 149.24,426.37 150.98,426.99 152.72,427.6 154.46,428.19 156.2,428.74 157.94,429.23 159.68,429.66 161.42,430.06 163.16,430.54 164.9,432.18 166.64,433.37 168.38,433.79 170.12,434.27 171.86,434.8 173.6,435.38 175.34,435.99 177.08,436.61 178.82,437.22 180.56,437.78 182.3,438.3 184.04,438.76 185.78,439.17 187.52,439.54 189.26,439.9 191,440.27 192.74,440.68 194.48,441.13 196.22,441.64 197.96,442.2 199.7,442.8 201.44,443.42 203.18,444.03 204.92,445.29 206.66,447.11 208.4,447.84 210.14,448.27 211.88,448.66 213.62,449.02 215.36,449.39 217.1,449.77 218.84,450.2 220.58,450.69 222.32,451.23 224.06,451.81 225.8,452.42 227.54,453.04 229.28,453.64 231.02,454.2 232.76,454.71 234.5,455.17 236.24,455.57 237.98,455.94 239.72,456.83 241.46,458.48 243.2,459.29 244.94,459.75 246.68,460.26 248.42,460.83 250.16,461.43 251.9,462.05 251.9,472.05 250.16,471.43 248.42,470.83 246.68,470.26 244.94,469.75 243.2,469.29 241.46,468.48 239.72,466.83 237.98,465.94 236.24,465.57 234.5,465.17 232.76,464.71 231.02,464.2 229.28,463.64 227.54,463.04 225.8,462.42 224.06,461.81 222.32,461.23 220.58,460.69 218.84,460.2 217.1,459.77 215.36,459.39 213.62,459.02 211.88,458.66 210.14,458.27 208.4,457.84 206.66,457.11 204.92,455.29 203.18,454.03 201.44,453.42 199.7,452.8 197.96,452.2 196.22,451.64 194.48,451.13 192.74,450.68 191,450.27 189.26,449.9 187.52,449.54 185.78,449.17 184.04,448.76 182.3,448.3 180.56,447.78 178.82,447.22 177.08,446.61 175.34,445.99 173.6,445.38 171.86,444.8 170.12,444.27 168.38,443.79 166.64,443.37 164.9,442.18 163.16,440.54 161.42,440.06 159.68,439.66 157.94,439.23 156.2,438.74 154.46,438.19 152.72,437.6 150.98,436.99 149.24,436.37 147.5,435.77" fill="#2200e8"/>
<polygon points="147.5,435.77 149.24,436.37 150.98,436.99 152.72,437.6 154.46,438.19 156.2,438.74 157.94,439.23 159.68,439.66 161.42,440.06 163.16,440.54 164.9,442.18 166.64,443.37 168.38,443.79 170.12,444.27 171.86,444.8 173.6,445.38 175.34,445.99 177.08,446.61 178.82,447.22 180.56,447.78 182.3,448.3 184.04,448.76 185.78,449.17 187.52,449.54 189.26,449.9 191,450.27 192.74,450.68 194.48,451.13 196.22,451.64 197.96,452.2 199.7,452.8 201.44,453.42 203.18,454.03 204.92,455.29 206.66,457.11 208.4,457.84 210.14,458.27 211.88,458.66 213.62,459.02 215.36,459.39 217.1,459.77 218.84,460.2 220.58,460.69 222.32,461.23 224.06,461.81 225.8,462.42 227.54,463.04 229.28,463.64 231.02,464.2 232.76,464.71 234.5,465.17 236.24,465.57 237.98,465.94 239.72,466.83 241.46,468.48 243.2,469.29 244.94,469.75 246.68,470.26 248.42,470.83 250.16,471.43 251.9,472.05 251.9,474.55 250.16,473.93 248.42,473.33 246.68,472.76 244.94,472.25 243.2,471.79 241.46,470.98 239.72,469.33 237.98,468.44 236.24,468.07 234.5,467.67 232.76,467.21 231.02,466.7 229.28,466.14 227.54,465.54 225.8,464.92 224.06,464.31 222.32,463.73 220.58,463.19 218.84,462.7 217.1,462.27 215.36,461.89 213.62,461.52 211.88,461.16 210.14,460.77 208.4,460.34 206.66,459.61 204.92,457.79 203.18,456.53 201.44,455.92 199.7,455.3 197.96,454.7 196.22,454.14 194.48,453.63 192.74,453.18 191,452.77 189.26,452.4 187.52,452.04 185.78,451.67 184.04,451.26 182.3,450.8 180.56,450.28 178.82,449.72 177.08,449.11 175.34,448.49 173.6,447.88 171.86,447.3 170.12,446.77 168.38,446.29 166.64,445.87 164.9,444.68 163.16,443.04 161.42,442.56 159.68,442.16 157.94,441.73 156.2,441.24 154.46,440.69 152.72,440.1 150.98,439.49 149.24,438.87 147.5,438.27" fill="#9a9a9a"/>
<polygon points="251.9,444.85 255.76,443.06 259.62,441.28 263.47,440.01 267.33,439.38 271.19,439 275.05,438.35 278.91,437.24 282.77,435.93 286.62,434.86 290.48,434.12 294.34,433.36 298.2,432.1 302.06,430.27 305.92,428.26 309.77,426.62 313.63,425.56 317.49,424.79 321.35,423.86 325.21,422.59 329.06,421.28 332.92,420.35 336.78,419.9 340.64,419.54 344.5,418.72 348.36,417.26 352.21,415.46 356.07,413.86 359.93,412.66 363.79,411.63 367.65,410.34 371.51,408.68 375.36,406.99 379.22,405.77 383.08,405.19 386.94,404.88 390.8,404.32 394.66,403.22 398.51,401.83 402.37,400.59 406.23,399.69 406.23,401.69 402.37,402.59 398.51,403.83 394.66,405.22 390.8,406.32 386.94,406.88 383.08,407.19 379.22,407.77 375.36,408.99 371.51,410.68 367.65,412.34 363.79,413.63 359.93,414.66 356.07,415.86 352.21,417.46 348.36,419.26 344.5,420.72 340.64,421.54 336.78,421.9 332.92,422.35 329.06,423.28 325.21,424.59 321.35,425.86 317.49,426.79 313.63,427.56 309.77,428.62 305.92,430.26 302.06,432.27 298.2,434.1 294.34,435.36 290.48,436.12 286.62,436.86 282.77,437.93 278.91,439.24 275.05,440.35 271.19,441 267.33,441.38 263.47,442.01 259.62,443.28 255.76,445.06 251.9,446.85" fill="#7a7a7a"/>
<polygon points="251.9,446.85 255.76,445.06 259.62,443.28 263.47,442.01 267.33,441.38 271.19,441 275.05,440.35 278.91,439.24 282.77,437.93 286.62,436.86 290.48,436.12 294.34,435.36 298.2,434.1 302.06,432.27 305.92,430.26 309.77,428.62 313.63,427.56 317.49,426.79 321.35,425.86 325.21,424.59 329.06,423.28 332.92,422.35 336.78,421.9 340.64,421.54 344.5,420.72 348.36,419.26 352.21,417.46 356.07,415.86 359.93,414.66 363.79,413.63 367.65,412.34 371.51,410.68 375.36,408.99 379.22,407.77 383.08,407.19 386.94,406.88 390.8,406.32 394.66,405.22 398.51,403.83 402.37,402.59 406.23,401.69 406.23,406.89 402.37,407.79 398.51,409.03 394.66,410.42 390.8,411.52 386.94,412.08 383.08,412.39 379.22,412.97 375.36,414.19 371.51,415.88 367.65,417.54 363.79,418.83 359.93,419.86 356.07,421.06 352.21,422.66 348.36,424.46 344.5,425.92 340.64,426.74 336.78,427.1 332.92,427.55 329.06,428.48 325.21,429.79 321.35,431.06 317.49,431.99 313.63,432.76 309.77,433.82 305.92,435.46 302.06,437.47 298.2,439.3 294.34,440.56 290.48,441.32 286.62,442.06 282.77,443.13 278.91,444.44 275.05,445.55 271.19,446.2 267.33,446.58 263.47,447.21 259.62,448.48 255.76,450.26 251.9,452.05" fill="#4ee05a"/>
<polygon points="251.9,452.05 255.76,450.26 259.62,448.48 263.47,447.21 267.33,446.58 271.19,446.2 275.05,445.55 278.91,444.44 282.77,443.13 286.62,442.06 290.48,441.32 294.34,440.56 298.2,439.3 302.06,437.47 305.92,435.46 309.77,433.82 313.63,432.76 317.49,431.99 321.35,431.06 325.21,429.79 329.06,428.48 332.92,427.55 336.78,427.1 340.64,426.74 344.5,425.92 348.36,424.46 352.21,422.66 356.07,421.06 359.93,419.86 363.79,418.83 367.65,417.54 371.51,415.88 375.36,414.19 379.22,412.97 383.08,412.39 386.94,412.08 390.8,411.52 394.66,410.42 398.51,409.03 402.37,407.79 406.23,406.89 406.23,418.89 402.37,419.79 398.51,421.03 394.66,422.42 390.8,423.52 386.94,424.08 383.08,424.39 379.22,424.97 375.36,426.19 371.51,427.88 367.65,429.54 363.79,430.83 359.93,431.86 356.07,433.06 352.21,434.66 348.36,436.46 344.5,437.92 340.64,438.74 336.78,439.1 332.92,439.55 329.06,440.48 325.21,441.79 321.35,443.06 317.49,443.99 313.63,444.76 309.77,445.82 305.92,447.46 302.06,449.47 298.2,451.3 294.34,452.56 290.48,453.32 286.62,454.06 282.77,455.13 278.91,456.44 275.05,457.55 271.19,458.2 267.33,458.58 263.47,459.21 259.62,460.48 255.76,462.26 251.9,464.05" fill="#4b4bff"/>
<polygon points="251.9,464.05 255.76,462.26 259.62,460.48 263.47,459.21 267.33,458.58 271.19,458.2 275.05,457.55 278.91,456.44 282.77,455.13 286.62,454.06 290.48,453.32 294.34,452.56 298.2,451.3 302.06,449.47 305.92,447.46 309.77,445.82 313.63,444.76 317.49,443.99 321.35,443.06 325.21,441.79 329.06,440.48 332.92,439.55 336.78,439.1 340.64,438.74 344.5,437.92 348.36,436.46 352.21,434.66 356.07,433.06 359.93,431.86 363.79,430.83 367.65,429.54 371.51,427.88 375.36,426.19 379.22,424.97 383.08,424.39 386.94,424.08 390.8,423.52 394.66,422.42 398.51,421.03 402.37,419.79 406.23,418.89 406.23,427.09 402.37,427.99 398.51,429.23 394.66,430.62 390.8,431.72 386.94,432.28 383.08,432.59 379.22,433.17 375.36,434.39 371.51,436.08 367.65,437.74 363.79,439.03 359.93,440.06 356.07,441.26 352.21,442.86 348.36,444.66 344.5,446.12 340.64,446.94 336.78,447.3 332.92,447.75 329.06,448.68 325.21,449.99 321.35,451.26 317.49,452.19 313.63,452.96 309.77,454.02 305.92,455.66 302.06,457.67 298.2,459.5 294.34,460.76 290.48,461.52 286.62,462.26 282.77,463.33 278.91,464.64 275.05,465.75 271.19,466.4 267.33,466.78 263.47,467.41 259.62,468.68 255.76,470.46 251.9,472.25" fill="#2a00f0"/>
<polygon points="251.9,472.25 255.76,470.46 259.62,468.68 263.47,467.41 267.33,466.78 271.19,466.4 275.05,465.75 278.91,464.64 282.77,463.33 286.62,462.26 290.48,461.52 294.34,460.76 298.2,459.5 302.06,457.67 305.92,455.66 309.77,454.02 313.63,452.96 317.49,452.19 321.35,451.26 325.21,449.99 329.06,448.68 332.92,447.75 336.78,447.3 340.64,446.94 344.5,446.12 348.36,444.66 352.21,442.86 356.07,441.26 359.93,440.06 363.79,439.03 367.65,437.74 371.51,436.08 375.36,434.39 379.22,433.17 383.08,432.59 386.94,432.28 390.8,431.72 394.66,430.62 398.51,429.23 402.37,427.99 406.23,427.09 406.23,429.39 402.37,430.29 398.51,431.53 394.66,432.92 390.8,434.02 386.94,434.58 383.08,434.89 379.22,435.47 375.36,436.69 371.51,438.38 367.65,440.04 363.79,441.33 359.93,442.36 356.07,443.56 352.21,445.16 348.36,446.96 344.5,448.42 340.64,449.24 336.78,449.6 332.92,450.05 329.06,450.98 325.21,452.29 321.35,453.56 317.49,454.49 313.63,455.26 309.77,456.32 305.92,457.96 302.06,459.97 298.2,461.8 294.34,463.06 290.48,463.82 286.62,464.56 282.77,465.63 278.91,466.94 275.05,468.05 271.19,468.7 267.33,469.08 263.47,469.71 259.62,470.98 255.76,472.76 251.9,474.55" fill="#a8a8a8"/>
<filter id="sh" x="-5%" y="-5%" width="110%" height="110%"><feDropShadow dx="-0.7" dy="-0.6" stdDeviation="0.45" flood-color="#303030" flood-opacity="0.6"/></filter>
<g filter="url(#sh)">
<polygon points="147.4,340.2 307.2,294.6 406.2,328.78 252,374.6" fill="#1400f0"/>
<polygon points="147.4,338.2 151.8,340.9 147.4,343" fill="#1400f0"/>
<clipPath id="boxclip"><rect x="147.4" y="250" width="258.8" height="200"/></clipPath>
<g clip-path="url(#boxclip)"><polygon points="152.52,339.85 160.1,331.4 166.5,335.7 166.5,338.7 152.52,342.85" fill="#1400f0"/><polygon points="166.5,335.7 174.08,327.25 180.48,331.55 180.48,334.55 166.5,338.7" fill="#1400f0"/><polygon points="180.48,331.55 188.06,323.1 194.46,327.4 194.46,330.4 180.48,334.55" fill="#1400f0"/><polygon points="194.46,327.4 202.04,318.95 208.44,323.25 208.44,326.25 194.46,330.4" fill="#1400f0"/><polygon points="208.44,323.25 216.02,314.8 222.42,319.1 222.42,322.1 208.44,326.25" fill="#1400f0"/><polygon points="222.42,319.1 230,310.65 236.4,314.95 236.4,317.95 222.42,322.1" fill="#1400f0"/><polygon points="236.4,314.95 243.98,306.5 250.38,310.8 250.38,313.8 236.4,317.95" fill="#1400f0"/><polygon points="250.38,310.8 257.96,302.35 264.36,306.65 264.36,309.65 250.38,313.8" fill="#1400f0"/><polygon points="264.36,306.65 271.94,298.2 278.34,302.5 278.34,305.5 264.36,309.65" fill="#1400f0"/><polygon points="278.34,302.5 285.92,294.05 292.32,298.35 292.32,301.35 278.34,305.5" fill="#1400f0"/><polygon points="292.32,298.35 299.9,289.9 306.3,294.2 306.3,297.2 292.32,301.35" fill="#1400f0"/></g>
<g clip-path="url(#boxclip)"><polygon points="299.9,289.9 299.9,299.7 296,294.6" fill="#1400f0"/><polygon points="299.9,289.9 299.9,299.7 307.4,294.7" fill="#4070ff"/><line x1="307.4" y1="294.7" x2="299.7" y2="299.9" stroke="#101070" stroke-width="0.6" stroke-opacity="0.45"/><polygon points="308.56,292.89 308.56,302.69 304.66,297.59" fill="#1400f0"/><polygon points="308.56,292.89 308.56,302.69 316.06,297.69" fill="#4070ff"/><line x1="316.06" y1="297.69" x2="308.36" y2="302.89" stroke="#101070" stroke-width="0.6" stroke-opacity="0.45"/><polygon points="317.22,295.88 317.22,305.68 313.32,300.58" fill="#1400f0"/><polygon points="317.22,295.88 317.22,305.68 324.72,300.68" fill="#4070ff"/><line x1="324.72" y1="300.68" x2="317.02" y2="305.88" stroke="#101070" stroke-width="0.6" stroke-opacity="0.45"/><polygon points="325.88,298.87 325.88,308.67 321.98,303.57" fill="#1400f0"/><polygon points="325.88,298.87 325.88,308.67 333.38,303.67" fill="#4070ff"/><line x1="333.38" y1="303.67" x2="325.68" y2="308.87" stroke="#101070" stroke-width="0.6" stroke-opacity="0.45"/><polygon points="334.54,301.86 334.54,311.66 330.64,306.56" fill="#1400f0"/><polygon points="334.54,301.86 334.54,311.66 342.04,306.66" fill="#4070ff"/><line x1="342.04" y1="306.66" x2="334.34" y2="311.86" stroke="#101070" stroke-width="0.6" stroke-opacity="0.45"/><polygon points="343.2,304.85 343.2,314.65 339.3,309.55" fill="#1400f0"/><polygon points="343.2,304.85 343.2,314.65 350.7,309.65" fill="#4070ff"/><line x1="350.7" y1="309.65" x2="343" y2="314.85" stroke="#101070" stroke-width="0.6" stroke-opacity="0.45"/><polygon points="351.86,307.84 351.86,317.64 347.96,312.54" fill="#1400f0"/><polygon points="351.86,307.84 351.86,317.64 359.36,312.64" fill="#4070ff"/><line x1="359.36" y1="312.64" x2="351.66" y2="317.84" stroke="#101070" stroke-width="0.6" stroke-opacity="0.45"/><polygon points="360.52,310.83 360.52,320.63 356.62,315.53" fill="#1400f0"/><polygon points="360.52,310.83 360.52,320.63 368.02,315.63" fill="#4070ff"/><line x1="368.02" y1="315.63" x2="360.32" y2="320.83" stroke="#101070" stroke-width="0.6" stroke-opacity="0.45"/><polygon points="369.18,313.82 369.18,323.62 365.28,318.52" fill="#1400f0"/><polygon points="369.18,313.82 369.18,323.62 376.68,318.62" fill="#4070ff"/><line x1="376.68" y1="318.62" x2="368.98" y2="323.82" stroke="#101070" stroke-width="0.6" stroke-opacity="0.45"/><polygon points="377.84,316.81 377.84,326.61 373.94,321.51" fill="#1400f0"/><polygon points="377.84,316.81 377.84,326.61 385.34,321.61" fill="#4070ff"/><line x1="385.34" y1="321.61" x2="377.64" y2="326.81" stroke="#101070" stroke-width="0.6" stroke-opacity="0.45"/><polygon points="386.5,319.8 386.5,329.6 382.6,324.5" fill="#1400f0"/><polygon points="386.5,319.8 386.5,329.6 394,324.6" fill="#4070ff"/><line x1="394" y1="324.6" x2="386.3" y2="329.8" stroke="#101070" stroke-width="0.6" stroke-opacity="0.45"/><polygon points="395.16,322.79 395.16,332.59 391.26,327.49" fill="#1400f0"/><polygon points="395.16,322.79 395.16,332.59 402.66,327.59" fill="#4070ff"/><line x1="402.66" y1="327.59" x2="394.96" y2="332.79" stroke="#101070" stroke-width="0.6" stroke-opacity="0.45"/><polygon points="403.82,325.78 403.82,335.58 399.92,330.48" fill="#1400f0"/><polygon points="403.82,325.78 403.82,335.58 411.32,330.58" fill="#4070ff"/><line x1="411.32" y1="330.58" x2="403.62" y2="335.78" stroke="#101070" stroke-width="0.6" stroke-opacity="0.45"/><polygon points="285.92,294.05 285.92,303.85 282.02,298.75" fill="#1400f0"/><polygon points="285.92,294.05 285.92,303.85 293.42,298.85" fill="#4070ff"/><line x1="293.42" y1="298.85" x2="285.72" y2="304.05" stroke="#101070" stroke-width="0.6" stroke-opacity="0.45"/><polygon points="294.58,297.04 294.58,306.84 290.68,301.74" fill="#1400f0"/><polygon points="294.58,297.04 294.58,306.84 302.08,301.84" fill="#4070ff"/><line x1="302.08" y1="301.84" x2="294.38" y2="307.04" stroke="#101070" stroke-width="0.6" stroke-opacity="0.45"/><polygon points="303.24,300.03 303.24,309.83 299.34,304.73" fill="#1400f0"/><polygon points="303.24,300.03 303.24,309.83 310.74,304.83" fill="#4070ff"/><line x1="310.74" y1="304.83" x2="303.04" y2="310.03" stroke="#101070" stroke-width="0.6" stroke-opacity="0.45"/><polygon points="311.9,303.02 311.9,312.82 308,307.72" fill="#1400f0"/><polygon points="311.9,303.02 311.9,312.82 319.4,307.82" fill="#4070ff"/><line x1="319.4" y1="307.82" x2="311.7" y2="313.02" stroke="#101070" stroke-width="0.6" stroke-opacity="0.45"/><polygon points="320.56,306.01 320.56,315.81 316.66,310.71" fill="#1400f0"/><polygon points="320.56,306.01 320.56,315.81 328.06,310.81" fill="#4070ff"/><line x1="328.06" y1="310.81" x2="320.36" y2="316.01" stroke="#101070" stroke-width="0.6" stroke-opacity="0.45"/><polygon points="329.22,309 329.22,318.8 325.32,313.7" fill="#1400f0"/><polygon points="329.22,309 329.22,318.8 336.72,313.8" fill="#4070ff"/><line x1="336.72" y1="313.8" x2="329.02" y2="319" stroke="#101070" stroke-width="0.6" stroke-opacity="0.45"/><polygon points="337.88,311.99 337.88,321.79 333.98,316.69" fill="#1400f0"/><polygon points="337.88,311.99 337.88,321.79 345.38,316.79" fill="#4070ff"/><line x1="345.38" y1="316.79" x2="337.68" y2="321.99" stroke="#101070" stroke-width="0.6" stroke-opacity="0.45"/><polygon points="346.54,314.98 346.54,324.78 342.64,319.68" fill="#1400f0"/><polygon points="346.54,314.98 346.54,324.78 354.04,319.78" fill="#4070ff"/><line x1="354.04" y1="319.78" x2="346.34" y2="324.98" stroke="#101070" stroke-width="0.6" stroke-opacity="0.45"/><polygon points="355.2,317.97 355.2,327.77 351.3,322.67" fill="#1400f0"/><polygon points="355.2,317.97 355.2,327.77 362.7,322.77" fill="#4070ff"/><line x1="362.7" y1="322.77" x2="355" y2="327.97" stroke="#101070" stroke-width="0.6" stroke-opacity="0.45"/><polygon points="363.86,320.96 363.86,330.76 359.96,325.66" fill="#1400f0"/><polygon points="363.86,320.96 363.86,330.76 371.36,325.76" fill="#4070ff"/><line x1="371.36" y1="325.76" x2="363.66" y2="330.96" stroke="#101070" stroke-width="0.6" stroke-opacity="0.45"/><polygon points="372.52,323.95 372.52,333.75 368.62,328.65" fill="#1400f0"/><polygon points="372.52,323.95 372.52,333.75 380.02,328.75" fill="#4070ff"/><line x1="380.02" y1="328.75" x2="372.32" y2="333.95" stroke="#101070" stroke-width="0.6" stroke-opacity="0.45"/><polygon points="381.18,326.94 381.18,336.74 377.28,331.64" fill="#1400f0"/><polygon points="381.18,326.94 381.18,336.74 388.68,331.74" fill="#4070ff"/><line x1="388.68" y1="331.74" x2="380.98" y2="336.94" stroke="#101070" stroke-width="0.6" stroke-opacity="0.45"/><polygon points="389.84,329.93 389.84,339.73 385.94,334.63" fill="#1400f0"/><polygon points="389.84,329.93 389.84,339.73 397.34,334.73" fill="#4070ff"/><line x1="397.34" y1="334.73" x2="389.64" y2="339.93" stroke="#101070" stroke-width="0.6" stroke-opacity="0.45"/><polygon points="271.94,298.2 271.94,308 268.04,302.9" fill="#1400f0"/><polygon points="271.94,298.2 271.94,308 279.44,303" fill="#4070ff"/><line x1="279.44" y1="303" x2="271.74" y2="308.2" stroke="#101070" stroke-width="0.6" stroke-opacity="0.45"/><polygon points="280.6,301.19 280.6,310.99 276.7,305.89" fill="#1400f0"/><polygon points="280.6,301.19 280.6,310.99 288.1,305.99" fill="#4070ff"/><line x1="288.1" y1="305.99" x2="280.4" y2="311.19" stroke="#101070" stroke-width="0.6" stroke-opacity="0.45"/><polygon points="289.26,304.18 289.26,313.98 285.36,308.88" fill="#1400f0"/><polygon points="289.26,304.18 289.26,313.98 296.76,308.98" fill="#4070ff"/><line x1="296.76" y1="308.98" x2="289.06" y2="314.18" stroke="#101070" stroke-width="0.6" stroke-opacity="0.45"/><polygon points="297.92,307.17 297.92,316.97 294.02,311.87" fill="#1400f0"/><polygon points="297.92,307.17 297.92,316.97 305.42,311.97" fill="#4070ff"/><line x1="305.42" y1="311.97" x2="297.72" y2="317.17" stroke="#101070" stroke-width="0.6" stroke-opacity="0.45"/><polygon points="306.58,310.16 306.58,319.96 302.68,314.86" fill="#1400f0"/><polygon points="306.58,310.16 306.58,319.96 314.08,314.96" fill="#4070ff"/><line x1="314.08" y1="314.96" x2="306.38" y2="320.16" stroke="#101070" stroke-width="0.6" stroke-opacity="0.45"/><polygon points="315.24,313.15 315.24,322.95 311.34,317.85" fill="#1400f0"/><polygon points="315.24,313.15 315.24,322.95 322.74,317.95" fill="#4070ff"/><line x1="322.74" y1="317.95" x2="315.04" y2="323.15" stroke="#101070" stroke-width="0.6" stroke-opacity="0.45"/><polygon points="323.9,316.14 323.9,325.94 320,320.84" fill="#1400f0"/><polygon points="323.9,316.14 323.9,325.94 331.4,320.94" fill="#4070ff"/><line x1="331.4" y1="320.94" x2="323.7" y2="326.14" stroke="#101070" stroke-width="0.6" stroke-opacity="0.45"/><polygon points="332.56,319.13 332.56,328.93 328.66,323.83" fill="#1400f0"/><polygon points="332.56,319.13 332.56,328.93 340.06,323.93" fill="#4070ff"/><line x1="340.06" y1="323.93" x2="332.36" y2="329.13" stroke="#101070" stroke-width="0.6" stroke-opacity="0.45"/><polygon points="341.22,322.12 341.22,331.92 337.32,326.82" fill="#1400f0"/><polygon points="341.22,322.12 341.22,331.92 348.72,326.92" fill="#4070ff"/><line x1="348.72" y1="326.92" x2="341.02" y2="332.12" stroke="#101070" stroke-width="0.6" stroke-opacity="0.45"/><polygon points="349.88,325.11 349.88,334.91 345.98,329.81" fill="#1400f0"/><polygon points="349.88,325.11 349.88,334.91 357.38,329.91" fill="#4070ff"/><line x1="357.38" y1="329.91" x2="349.68" y2="335.11" stroke="#101070" stroke-width="0.6" stroke-opacity="0.45"/><polygon points="358.54,328.1 358.54,337.9 354.64,332.8" fill="#1400f0"/><polygon points="358.54,328.1 358.54,337.9 366.04,332.9" fill="#4070ff"/><line x1="366.04" y1="332.9" x2="358.34" y2="338.1" stroke="#101070" stroke-width="0.6" stroke-opacity="0.45"/><polygon points="367.2,331.09 367.2,340.89 363.3,335.79" fill="#1400f0"/><polygon points="367.2,331.09 367.2,340.89 374.7,335.89" fill="#4070ff"/><line x1="374.7" y1="335.89" x2="367" y2="341.09" stroke="#101070" stroke-width="0.6" stroke-opacity="0.45"/><polygon points="257.96,302.35 257.96,312.15 254.06,307.05" fill="#1400f0"/><polygon points="257.96,302.35 257.96,312.15 265.46,307.15" fill="#4070ff"/><line x1="265.46" y1="307.15" x2="257.76" y2="312.35" stroke="#101070" stroke-width="0.6" stroke-opacity="0.45"/><polygon points="266.62,305.34 266.62,315.14 262.72,310.04" fill="#1400f0"/><polygon points="266.62,305.34 266.62,315.14 274.12,310.14" fill="#4070ff"/><line x1="274.12" y1="310.14" x2="266.42" y2="315.34" stroke="#101070" stroke-width="0.6" stroke-opacity="0.45"/><polygon points="275.28,308.33 275.28,318.13 271.38,313.03" fill="#1400f0"/><polygon points="275.28,308.33 275.28,318.13 282.78,313.13" fill="#4070ff"/><line x1="282.78" y1="313.13" x2="275.08" y2="318.33" stroke="#101070" stroke-width="0.6" stroke-opacity="0.45"/><polygon points="283.94,311.32 283.94,321.12 280.04,316.02" fill="#1400f0"/><polygon points="283.94,311.32 283.94,321.12 291.44,316.12" fill="#4070ff"/><line x1="291.44" y1="316.12" x2="283.74" y2="321.32" stroke="#101070" stroke-width="0.6" stroke-opacity="0.45"/><polygon points="292.6,314.31 292.6,324.11 288.7,319.01" fill="#1400f0"/><polygon points="292.6,314.31 292.6,324.11 300.1,319.11" fill="#4070ff"/><line x1="300.1" y1="319.11" x2="292.4" y2="324.31" stroke="#101070" stroke-width="0.6" stroke-opacity="0.45"/><polygon points="301.26,317.3 301.26,327.1 297.36,322" fill="#1400f0"/><polygon points="301.26,317.3 301.26,327.1 308.76,322.1" fill="#4070ff"/><line x1="308.76" y1="322.1" x2="301.06" y2="327.3" stroke="#101070" stroke-width="0.6" stroke-opacity="0.45"/><polygon points="309.92,320.29 309.92,330.09 306.02,324.99" fill="#1400f0"/><polygon points="309.92,320.29 309.92,330.09 317.42,325.09" fill="#4070ff"/><line x1="317.42" y1="325.09" x2="309.72" y2="330.29" stroke="#101070" stroke-width="0.6" stroke-opacity="0.45"/><polygon points="318.58,323.28 318.58,333.08 314.68,327.98" fill="#1400f0"/><polygon points="318.58,323.28 318.58,333.08 326.08,328.08" fill="#4070ff"/><line x1="326.08" y1="328.08" x2="318.38" y2="333.28" stroke="#101070" stroke-width="0.6" stroke-opacity="0.45"/><polygon points="327.24,326.27 327.24,336.07 323.34,330.97" fill="#1400f0"/><polygon points="327.24,326.27 327.24,336.07 334.74,331.07" fill="#4070ff"/><line x1="334.74" y1="331.07" x2="327.04" y2="336.27" stroke="#101070" stroke-width="0.6" stroke-opacity="0.45"/><polygon points="335.9,329.26 335.9,339.06 332,333.96" fill="#1400f0"/><polygon points="335.9,329.26 335.9,339.06 343.4,334.06" fill="#4070ff"/><line x1="343.4" y1="334.06" x2="335.7" y2="339.26" stroke="#101070" stroke-width="0.6" stroke-opacity="0.45"/><polygon points="344.56,332.25 344.56,342.05 340.66,336.95" fill="#1400f0"/><polygon points="344.56,332.25 344.56,342.05 352.06,337.05" fill="#4070ff"/><line x1="352.06" y1="337.05" x2="344.36" y2="342.25" stroke="#101070" stroke-width="0.6" stroke-opacity="0.45"/><polygon points="353.22,335.24 353.22,345.04 349.32,339.94" fill="#1400f0"/><polygon points="353.22,335.24 353.22,345.04 360.72,340.04" fill="#4070ff"/><line x1="360.72" y1="340.04" x2="353.02" y2="345.24" stroke="#101070" stroke-width="0.6" stroke-opacity="0.45"/><polygon points="243.98,306.5 243.98,316.3 240.08,311.2" fill="#1400f0"/><polygon points="243.98,306.5 243.98,316.3 251.48,311.3" fill="#4070ff"/><line x1="251.48" y1="311.3" x2="243.78" y2="316.5" stroke="#101070" stroke-width="0.6" stroke-opacity="0.45"/><polygon points="252.64,309.49 252.64,319.29 248.74,314.19" fill="#1400f0"/><polygon points="252.64,309.49 252.64,319.29 260.14,314.29" fill="#4070ff"/><line x1="260.14" y1="314.29" x2="252.44" y2="319.49" stroke="#101070" stroke-width="0.6" stroke-opacity="0.45"/><polygon points="261.3,312.48 261.3,322.28 257.4,317.18" fill="#1400f0"/><polygon points="261.3,312.48 261.3,322.28 268.8,317.28" fill="#4070ff"/><line x1="268.8" y1="317.28" x2="261.1" y2="322.48" stroke="#101070" stroke-width="0.6" stroke-opacity="0.45"/><polygon points="269.96,315.47 269.96,325.27 266.06,320.17" fill="#1400f0"/><polygon points="269.96,315.47 269.96,325.27 277.46,320.27" fill="#4070ff"/><line x1="277.46" y1="320.27" x2="269.76" y2="325.47" stroke="#101070" stroke-width="0.6" stroke-opacity="0.45"/><polygon points="278.62,318.46 278.62,328.26 274.72,323.16" fill="#1400f0"/><polygon points="278.62,318.46 278.62,328.26 286.12,323.26" fill="#4070ff"/><line x1="286.12" y1="323.26" x2="278.42" y2="328.46" stroke="#101070" stroke-width="0.6" stroke-opacity="0.45"/><polygon points="287.28,321.45 287.28,331.25 283.38,326.15" fill="#1400f0"/><polygon points="287.28,321.45 287.28,331.25 294.78,326.25" fill="#4070ff"/><line x1="294.78" y1="326.25" x2="287.08" y2="331.45" stroke="#101070" stroke-width="0.6" stroke-opacity="0.45"/><polygon points="295.94,324.44 295.94,334.24 292.04,329.14" fill="#1400f0"/><polygon points="295.94,324.44 295.94,334.24 303.44,329.24" fill="#4070ff"/><line x1="303.44" y1="329.24" x2="295.74" y2="334.44" stroke="#101070" stroke-width="0.6" stroke-opacity="0.45"/><polygon points="304.6,327.43 304.6,337.23 300.7,332.13" fill="#1400f0"/><polygon points="304.6,327.43 304.6,337.23 312.1,332.23" fill="#4070ff"/><line x1="312.1" y1="332.23" x2="304.4" y2="337.43" stroke="#101070" stroke-width="0.6" stroke-opacity="0.45"/><polygon points="313.26,330.42 313.26,340.22 309.36,335.12" fill="#1400f0"/><polygon points="313.26,330.42 313.26,340.22 320.76,335.22" fill="#4070ff"/><line x1="320.76" y1="335.22" x2="313.06" y2="340.42" stroke="#101070" stroke-width="0.6" stroke-opacity="0.45"/><polygon points="321.92,333.41 321.92,343.21 318.02,338.11" fill="#1400f0"/><polygon points="321.92,333.41 321.92,343.21 329.42,338.21" fill="#4070ff"/><line x1="329.42" y1="338.21" x2="321.72" y2="343.41" stroke="#101070" stroke-width="0.6" stroke-opacity="0.45"/><polygon points="330.58,336.4 330.58,346.2 326.68,341.1" fill="#1400f0"/><polygon points="330.58,336.4 330.58,346.2 338.08,341.2" fill="#4070ff"/><line x1="338.08" y1="341.2" x2="330.38" y2="346.4" stroke="#101070" stroke-width="0.6" stroke-opacity="0.45"/><polygon points="339.24,339.39 339.24,349.19 335.34,344.09" fill="#1400f0"/><polygon points="339.24,339.39 339.24,349.19 346.74,344.19" fill="#4070ff"/><line x1="346.74" y1="344.19" x2="339.04" y2="349.39" stroke="#101070" stroke-width="0.6" stroke-opacity="0.45"/><polygon points="230,310.65 230,320.45 226.1,315.35" fill="#1400f0"/><polygon points="230,310.65 230,320.45 237.5,315.45" fill="#4070ff"/><line x1="237.5" y1="315.45" x2="229.8" y2="320.65" stroke="#101070" stroke-width="0.6" stroke-opacity="0.45"/><polygon points="238.66,313.64 238.66,323.44 234.76,318.34" fill="#1400f0"/><polygon points="238.66,313.64 238.66,323.44 246.16,318.44" fill="#4070ff"/><line x1="246.16" y1="318.44" x2="238.46" y2="323.64" stroke="#101070" stroke-width="0.6" stroke-opacity="0.45"/><polygon points="247.32,316.63 247.32,326.43 243.42,321.33" fill="#1400f0"/><polygon points="247.32,316.63 247.32,326.43 254.82,321.43" fill="#4070ff"/><line x1="254.82" y1="321.43" x2="247.12" y2="326.63" stroke="#101070" stroke-width="0.6" stroke-opacity="0.45"/><polygon points="255.98,319.62 255.98,329.42 252.08,324.32" fill="#1400f0"/><polygon points="255.98,319.62 255.98,329.42 263.48,324.42" fill="#4070ff"/><line x1="263.48" y1="324.42" x2="255.78" y2="329.62" stroke="#101070" stroke-width="0.6" stroke-opacity="0.45"/><polygon points="264.64,322.61 264.64,332.41 260.74,327.31" fill="#1400f0"/><polygon points="264.64,322.61 264.64,332.41 272.14,327.41" fill="#4070ff"/><line x1="272.14" y1="327.41" x2="264.44" y2="332.61" stroke="#101070" stroke-width="0.6" stroke-opacity="0.45"/><polygon points="273.3,325.6 273.3,335.4 269.4,330.3" fill="#1400f0"/><polygon points="273.3,325.6 273.3,335.4 280.8,330.4" fill="#4070ff"/><line x1="280.8" y1="330.4" x2="273.1" y2="335.6" stroke="#101070" stroke-width="0.6" stroke-opacity="0.45"/><polygon points="281.96,328.59 281.96,338.39 278.06,333.29" fill="#1400f0"/><polygon points="281.96,328.59 281.96,338.39 289.46,333.39" fill="#4070ff"/><line x1="289.46" y1="333.39" x2="281.76" y2="338.59" stroke="#101070" stroke-width="0.6" stroke-opacity="0.45"/><polygon points="290.62,331.58 290.62,341.38 286.72,336.28" fill="#1400f0"/><polygon points="290.62,331.58 290.62,341.38 298.12,336.38" fill="#4070ff"/><line x1="298.12" y1="336.38" x2="290.42" y2="341.58" stroke="#101070" stroke-width="0.6" stroke-opacity="0.45"/><polygon points="299.28,334.57 299.28,344.37 295.38,339.27" fill="#1400f0"/><polygon points="299.28,334.57 299.28,344.37 306.78,339.37" fill="#4070ff"/><line x1="306.78" y1="339.37" x2="299.08" y2="344.57" stroke="#101070" stroke-width="0.6" stroke-opacity="0.45"/><polygon points="307.94,337.56 307.94,347.36 304.04,342.26" fill="#1400f0"/><polygon points="307.94,337.56 307.94,347.36 315.44,342.36" fill="#4070ff"/><line x1="315.44" y1="342.36" x2="307.74" y2="347.56" stroke="#101070" stroke-width="0.6" stroke-opacity="0.45"/><polygon points="316.6,340.55 316.6,350.35 312.7,345.25" fill="#1400f0"/><polygon points="316.6,340.55 316.6,350.35 324.1,345.35" fill="#4070ff"/><line x1="324.1" y1="345.35" x2="316.4" y2="350.55" stroke="#101070" stroke-width="0.6" stroke-opacity="0.45"/><polygon points="325.26,343.54 325.26,353.34 321.36,348.24" fill="#1400f0"/><polygon points="325.26,343.54 325.26,353.34 332.76,348.34" fill="#4070ff"/><line x1="332.76" y1="348.34" x2="325.06" y2="353.54" stroke="#101070" stroke-width="0.6" stroke-opacity="0.45"/><polygon points="216.02,314.8 216.02,324.6 212.12,319.5" fill="#1400f0"/><polygon points="216.02,314.8 216.02,324.6 223.52,319.6" fill="#4070ff"/><line x1="223.52" y1="319.6" x2="215.82" y2="324.8" stroke="#101070" stroke-width="0.6" stroke-opacity="0.45"/><polygon points="224.68,317.79 224.68,327.59 220.78,322.49" fill="#1400f0"/><polygon points="224.68,317.79 224.68,327.59 232.18,322.59" fill="#4070ff"/><line x1="232.18" y1="322.59" x2="224.48" y2="327.79" stroke="#101070" stroke-width="0.6" stroke-opacity="0.45"/><polygon points="233.34,320.78 233.34,330.58 229.44,325.48" fill="#1400f0"/><polygon points="233.34,320.78 233.34,330.58 240.84,325.58" fill="#4070ff"/><line x1="240.84" y1="325.58" x2="233.14" y2="330.78" stroke="#101070" stroke-width="0.6" stroke-opacity="0.45"/><polygon points="242,323.77 242,333.57 238.1,328.47" fill="#1400f0"/><polygon points="242,323.77 242,333.57 249.5,328.57" fill="#4070ff"/><line x1="249.5" y1="328.57" x2="241.8" y2="333.77" stroke="#101070" stroke-width="0.6" stroke-opacity="0.45"/><polygon points="250.66,326.76 250.66,336.56 246.76,331.46" fill="#1400f0"/><polygon points="250.66,326.76 250.66,336.56 258.16,331.56" fill="#4070ff"/><line x1="258.16" y1="331.56" x2="250.46" y2="336.76" stroke="#101070" stroke-width="0.6" stroke-opacity="0.45"/><polygon points="259.32,329.75 259.32,339.55 255.42,334.45" fill="#1400f0"/><polygon points="259.32,329.75 259.32,339.55 266.82,334.55" fill="#4070ff"/><line x1="266.82" y1="334.55" x2="259.12" y2="339.75" stroke="#101070" stroke-width="0.6" stroke-opacity="0.45"/><polygon points="267.98,332.74 267.98,342.54 264.08,337.44" fill="#1400f0"/><polygon points="267.98,332.74 267.98,342.54 275.48,337.54" fill="#4070ff"/><line x1="275.48" y1="337.54" x2="267.78" y2="342.74" stroke="#101070" stroke-width="0.6" stroke-opacity="0.45"/><polygon points="276.64,335.73 276.64,345.53 272.74,340.43" fill="#1400f0"/><polygon points="276.64,335.73 276.64,345.53 284.14,340.53" fill="#4070ff"/><line x1="284.14" y1="340.53" x2="276.44" y2="345.73" stroke="#101070" stroke-width="0.6" stroke-opacity="0.45"/><polygon points="285.3,338.72 285.3,348.52 281.4,343.42" fill="#1400f0"/><polygon points="285.3,338.72 285.3,348.52 292.8,343.52" fill="#4070ff"/><line x1="292.8" y1="343.52" x2="285.1" y2="348.72" stroke="#101070" stroke-width="0.6" stroke-opacity="0.45"/><polygon points="293.96,341.71 293.96,351.51 290.06,346.41" fill="#1400f0"/><polygon points="293.96,341.71 293.96,351.51 301.46,346.51" fill="#4070ff"/><line x1="301.46" y1="346.51" x2="293.76" y2="351.71" stroke="#101070" stroke-width="0.6" stroke-opacity="0.45"/><polygon points="302.62,344.7 302.62,354.5 298.72,349.4" fill="#1400f0"/><polygon points="302.62,344.7 302.62,354.5 310.12,349.5" fill="#4070ff"/><line x1="310.12" y1="349.5" x2="302.42" y2="354.7" stroke="#101070" stroke-width="0.6" stroke-opacity="0.45"/><polygon points="311.28,347.69 311.28,357.49 307.38,352.39" fill="#1400f0"/><polygon points="311.28,347.69 311.28,357.49 318.78,352.49" fill="#4070ff"/><line x1="318.78" y1="352.49" x2="311.08" y2="357.69" stroke="#101070" stroke-width="0.6" stroke-opacity="0.45"/><polygon points="202.04,318.95 202.04,328.75 198.14,323.65" fill="#1400f0"/><polygon points="202.04,318.95 202.04,328.75 209.54,323.75" fill="#4070ff"/><line x1="209.54" y1="323.75" x2="201.84" y2="328.95" stroke="#101070" stroke-width="0.6" stroke-opacity="0.45"/><polygon points="210.7,321.94 210.7,331.74 206.8,326.64" fill="#1400f0"/><polygon points="210.7,321.94 210.7,331.74 218.2,326.74" fill="#4070ff"/><line x1="218.2" y1="326.74" x2="210.5" y2="331.94" stroke="#101070" stroke-width="0.6" stroke-opacity="0.45"/><polygon points="219.36,324.93 219.36,334.73 215.46,329.63" fill="#1400f0"/><polygon points="219.36,324.93 219.36,334.73 226.86,329.73" fill="#4070ff"/><line x1="226.86" y1="329.73" x2="219.16" y2="334.93" stroke="#101070" stroke-width="0.6" stroke-opacity="0.45"/><polygon points="228.02,327.92 228.02,337.72 224.12,332.62" fill="#1400f0"/><polygon points="228.02,327.92 228.02,337.72 235.52,332.72" fill="#4070ff"/><line x1="235.52" y1="332.72" x2="227.82" y2="337.92" stroke="#101070" stroke-width="0.6" stroke-opacity="0.45"/><polygon points="236.68,330.91 236.68,340.71 232.78,335.61" fill="#1400f0"/><polygon points="236.68,330.91 236.68,340.71 244.18,335.71" fill="#4070ff"/><line x1="244.18" y1="335.71" x2="236.48" y2="340.91" stroke="#101070" stroke-width="0.6" stroke-opacity="0.45"/><polygon points="245.34,333.9 245.34,343.7 241.44,338.6" fill="#1400f0"/><polygon points="245.34,333.9 245.34,343.7 252.84,338.7" fill="#4070ff"/><line x1="252.84" y1="338.7" x2="245.14" y2="343.9" stroke="#101070" stroke-width="0.6" stroke-opacity="0.45"/><polygon points="254,336.89 254,346.69 250.1,341.59" fill="#1400f0"/><polygon points="254,336.89 254,346.69 261.5,341.69" fill="#4070ff"/><line x1="261.5" y1="341.69" x2="253.8" y2="346.89" stroke="#101070" stroke-width="0.6" stroke-opacity="0.45"/><polygon points="262.66,339.88 262.66,349.68 258.76,344.58" fill="#1400f0"/><polygon points="262.66,339.88 262.66,349.68 270.16,344.68" fill="#4070ff"/><line x1="270.16" y1="344.68" x2="262.46" y2="349.88" stroke="#101070" stroke-width="0.6" stroke-opacity="0.45"/><polygon points="271.32,342.87 271.32,352.67 267.42,347.57" fill="#1400f0"/><polygon points="271.32,342.87 271.32,352.67 278.82,347.67" fill="#4070ff"/><line x1="278.82" y1="347.67" x2="271.12" y2="352.87" stroke="#101070" stroke-width="0.6" stroke-opacity="0.45"/><polygon points="279.98,345.86 279.98,355.66 276.08,350.56" fill="#1400f0"/><polygon points="279.98,345.86 279.98,355.66 287.48,350.66" fill="#4070ff"/><line x1="287.48" y1="350.66" x2="279.78" y2="355.86" stroke="#101070" stroke-width="0.6" stroke-opacity="0.45"/><polygon points="288.64,348.85 288.64,358.65 284.74,353.55" fill="#1400f0"/><polygon points="288.64,348.85 288.64,358.65 296.14,353.65" fill="#4070ff"/><line x1="296.14" y1="353.65" x2="288.44" y2="358.85" stroke="#101070" stroke-width="0.6" stroke-opacity="0.45"/><polygon points="297.3,351.84 297.3,361.64 293.4,356.54" fill="#1400f0"/><polygon points="297.3,351.84 297.3,361.64 304.8,356.64" fill="#4070ff"/><line x1="304.8" y1="356.64" x2="297.1" y2="361.84" stroke="#101070" stroke-width="0.6" stroke-opacity="0.45"/><polygon points="188.06,323.1 188.06,332.9 184.16,327.8" fill="#1400f0"/><polygon points="188.06,323.1 188.06,332.9 195.56,327.9" fill="#4070ff"/><line x1="195.56" y1="327.9" x2="187.86" y2="333.1" stroke="#101070" stroke-width="0.6" stroke-opacity="0.45"/><polygon points="196.72,326.09 196.72,335.89 192.82,330.79" fill="#1400f0"/><polygon points="196.72,326.09 196.72,335.89 204.22,330.89" fill="#4070ff"/><line x1="204.22" y1="330.89" x2="196.52" y2="336.09" stroke="#101070" stroke-width="0.6" stroke-opacity="0.45"/><polygon points="205.38,329.08 205.38,338.88 201.48,333.78" fill="#1400f0"/><polygon points="205.38,329.08 205.38,338.88 212.88,333.88" fill="#4070ff"/><line x1="212.88" y1="333.88" x2="205.18" y2="339.08" stroke="#101070" stroke-width="0.6" stroke-opacity="0.45"/><polygon points="214.04,332.07 214.04,341.87 210.14,336.77" fill="#1400f0"/><polygon points="214.04,332.07 214.04,341.87 221.54,336.87" fill="#4070ff"/><line x1="221.54" y1="336.87" x2="213.84" y2="342.07" stroke="#101070" stroke-width="0.6" stroke-opacity="0.45"/><polygon points="222.7,335.06 222.7,344.86 218.8,339.76" fill="#1400f0"/><polygon points="222.7,335.06 222.7,344.86 230.2,339.86" fill="#4070ff"/><line x1="230.2" y1="339.86" x2="222.5" y2="345.06" stroke="#101070" stroke-width="0.6" stroke-opacity="0.45"/><polygon points="231.36,338.05 231.36,347.85 227.46,342.75" fill="#1400f0"/><polygon points="231.36,338.05 231.36,347.85 238.86,342.85" fill="#4070ff"/><line x1="238.86" y1="342.85" x2="231.16" y2="348.05" stroke="#101070" stroke-width="0.6" stroke-opacity="0.45"/><polygon points="240.02,341.04 240.02,350.84 236.12,345.74" fill="#1400f0"/><polygon points="240.02,341.04 240.02,350.84 247.52,345.84" fill="#4070ff"/><line x1="247.52" y1="345.84" x2="239.82" y2="351.04" stroke="#101070" stroke-width="0.6" stroke-opacity="0.45"/><polygon points="248.68,344.03 248.68,353.83 244.78,348.73" fill="#1400f0"/><polygon points="248.68,344.03 248.68,353.83 256.18,348.83" fill="#4070ff"/><line x1="256.18" y1="348.83" x2="248.48" y2="354.03" stroke="#101070" stroke-width="0.6" stroke-opacity="0.45"/><polygon points="257.34,347.02 257.34,356.82 253.44,351.72" fill="#1400f0"/><polygon points="257.34,347.02 257.34,356.82 264.84,351.82" fill="#4070ff"/><line x1="264.84" y1="351.82" x2="257.14" y2="357.02" stroke="#101070" stroke-width="0.6" stroke-opacity="0.45"/><polygon points="266,350.01 266,359.81 262.1,354.71" fill="#1400f0"/><polygon points="266,350.01 266,359.81 273.5,354.81" fill="#4070ff"/><line x1="273.5" y1="354.81" x2="265.8" y2="360.01" stroke="#101070" stroke-width="0.6" stroke-opacity="0.45"/><polygon points="274.66,353 274.66,362.8 270.76,357.7" fill="#1400f0"/><polygon points="274.66,353 274.66,362.8 282.16,357.8" fill="#4070ff"/><line x1="282.16" y1="357.8" x2="274.46" y2="363" stroke="#101070" stroke-width="0.6" stroke-opacity="0.45"/><polygon points="283.32,355.99 283.32,365.79 279.42,360.69" fill="#1400f0"/><polygon points="283.32,355.99 283.32,365.79 290.82,360.79" fill="#4070ff"/><line x1="290.82" y1="360.79" x2="283.12" y2="365.99" stroke="#101070" stroke-width="0.6" stroke-opacity="0.45"/><polygon points="174.08,327.25 174.08,337.05 170.18,331.95" fill="#1400f0"/><polygon points="174.08,327.25 174.08,337.05 181.58,332.05" fill="#4070ff"/><line x1="181.58" y1="332.05" x2="173.88" y2="337.25" stroke="#101070" stroke-width="0.6" stroke-opacity="0.45"/><polygon points="182.74,330.24 182.74,340.04 178.84,334.94" fill="#1400f0"/><polygon points="182.74,330.24 182.74,340.04 190.24,335.04" fill="#4070ff"/><line x1="190.24" y1="335.04" x2="182.54" y2="340.24" stroke="#101070" stroke-width="0.6" stroke-opacity="0.45"/><polygon points="191.4,333.23 191.4,343.03 187.5,337.93" fill="#1400f0"/><polygon points="191.4,333.23 191.4,343.03 198.9,338.03" fill="#4070ff"/><line x1="198.9" y1="338.03" x2="191.2" y2="343.23" stroke="#101070" stroke-width="0.6" stroke-opacity="0.45"/><polygon points="200.06,336.22 200.06,346.02 196.16,340.92" fill="#1400f0"/><polygon points="200.06,336.22 200.06,346.02 207.56,341.02" fill="#4070ff"/><line x1="207.56" y1="341.02" x2="199.86" y2="346.22" stroke="#101070" stroke-width="0.6" stroke-opacity="0.45"/><polygon points="208.72,339.21 208.72,349.01 204.82,343.91" fill="#1400f0"/><polygon points="208.72,339.21 208.72,349.01 216.22,344.01" fill="#4070ff"/><line x1="216.22" y1="344.01" x2="208.52" y2="349.21" stroke="#101070" stroke-width="0.6" stroke-opacity="0.45"/><polygon points="217.38,342.2 217.38,352 213.48,346.9" fill="#1400f0"/><polygon points="217.38,342.2 217.38,352 224.88,347" fill="#4070ff"/><line x1="224.88" y1="347" x2="217.18" y2="352.2" stroke="#101070" stroke-width="0.6" stroke-opacity="0.45"/><polygon points="226.04,345.19 226.04,354.99 222.14,349.89" fill="#1400f0"/><polygon points="226.04,345.19 226.04,354.99 233.54,349.99" fill="#4070ff"/><line x1="233.54" y1="349.99" x2="225.84" y2="355.19" stroke="#101070" stroke-width="0.6" stroke-opacity="0.45"/><polygon points="234.7,348.18 234.7,357.98 230.8,352.88" fill="#1400f0"/><polygon points="234.7,348.18 234.7,357.98 242.2,352.98" fill="#4070ff"/><line x1="242.2" y1="352.98" x2="234.5" y2="358.18" stroke="#101070" stroke-width="0.6" stroke-opacity="0.45"/><polygon points="243.36,351.17 243.36,360.97 239.46,355.87" fill="#1400f0"/><polygon points="243.36,351.17 243.36,360.97 250.86,355.97" fill="#4070ff"/><line x1="250.86" y1="355.97" x2="243.16" y2="361.17" stroke="#101070" stroke-width="0.6" stroke-opacity="0.45"/><polygon points="252.02,354.16 252.02,363.96 248.12,358.86" fill="#1400f0"/><polygon points="252.02,354.16 252.02,363.96 259.52,358.96" fill="#4070ff"/><line x1="259.52" y1="358.96" x2="251.82" y2="364.16" stroke="#101070" stroke-width="0.6" stroke-opacity="0.45"/><polygon points="260.68,357.15 260.68,366.95 256.78,361.85" fill="#1400f0"/><polygon points="260.68,357.15 260.68,366.95 268.18,361.95" fill="#4070ff"/><line x1="268.18" y1="361.95" x2="260.48" y2="367.15" stroke="#101070" stroke-width="0.6" stroke-opacity="0.45"/><polygon points="269.34,360.14 269.34,369.94 265.44,364.84" fill="#1400f0"/><polygon points="269.34,360.14 269.34,369.94 276.84,364.94" fill="#4070ff"/><line x1="276.84" y1="364.94" x2="269.14" y2="370.14" stroke="#101070" stroke-width="0.6" stroke-opacity="0.45"/><polygon points="160.1,331.4 160.1,341.2 156.2,336.1" fill="#1400f0"/><polygon points="160.1,331.4 160.1,341.2 167.6,336.2" fill="#4070ff"/><line x1="167.6" y1="336.2" x2="159.9" y2="341.4" stroke="#101070" stroke-width="0.6" stroke-opacity="0.45"/><polygon points="168.76,334.39 168.76,344.19 164.86,339.09" fill="#1400f0"/><polygon points="168.76,334.39 168.76,344.19 176.26,339.19" fill="#4070ff"/><line x1="176.26" y1="339.19" x2="168.56" y2="344.39" stroke="#101070" stroke-width="0.6" stroke-opacity="0.45"/><polygon points="177.42,337.38 177.42,347.18 173.52,342.08" fill="#1400f0"/><polygon points="177.42,337.38 177.42,347.18 184.92,342.18" fill="#4070ff"/><line x1="184.92" y1="342.18" x2="177.22" y2="347.38" stroke="#101070" stroke-width="0.6" stroke-opacity="0.45"/><polygon points="186.08,340.37 186.08,350.17 182.18,345.07" fill="#1400f0"/><polygon points="186.08,340.37 186.08,350.17 193.58,345.17" fill="#4070ff"/><line x1="193.58" y1="345.17" x2="185.88" y2="350.37" stroke="#101070" stroke-width="0.6" stroke-opacity="0.45"/><polygon points="194.74,343.36 194.74,353.16 190.84,348.06" fill="#1400f0"/><polygon points="194.74,343.36 194.74,353.16 202.24,348.16" fill="#4070ff"/><line x1="202.24" y1="348.16" x2="194.54" y2="353.36" stroke="#101070" stroke-width="0.6" stroke-opacity="0.45"/><polygon points="203.4,346.35 203.4,356.15 199.5,351.05" fill="#1400f0"/><polygon points="203.4,346.35 203.4,356.15 210.9,351.15" fill="#4070ff"/><line x1="210.9" y1="351.15" x2="203.2" y2="356.35" stroke="#101070" stroke-width="0.6" stroke-opacity="0.45"/><polygon points="212.06,349.34 212.06,359.14 208.16,354.04" fill="#1400f0"/><polygon points="212.06,349.34 212.06,359.14 219.56,354.14" fill="#4070ff"/><line x1="219.56" y1="354.14" x2="211.86" y2="359.34" stroke="#101070" stroke-width="0.6" stroke-opacity="0.45"/><polygon points="220.72,352.33 220.72,362.13 216.82,357.03" fill="#1400f0"/><polygon points="220.72,352.33 220.72,362.13 228.22,357.13" fill="#4070ff"/><line x1="228.22" y1="357.13" x2="220.52" y2="362.33" stroke="#101070" stroke-width="0.6" stroke-opacity="0.45"/><polygon points="229.38,355.32 229.38,365.12 225.48,360.02" fill="#1400f0"/><polygon points="229.38,355.32 229.38,365.12 236.88,360.12" fill="#4070ff"/><line x1="236.88" y1="360.12" x2="229.18" y2="365.32" stroke="#101070" stroke-width="0.6" stroke-opacity="0.45"/><polygon points="238.04,358.31 238.04,368.11 234.14,363.01" fill="#1400f0"/><polygon points="238.04,358.31 238.04,368.11 245.54,363.11" fill="#4070ff"/><line x1="245.54" y1="363.11" x2="237.84" y2="368.31" stroke="#101070" stroke-width="0.6" stroke-opacity="0.45"/><polygon points="246.7,361.3 246.7,371.1 242.8,366" fill="#1400f0"/><polygon points="246.7,361.3 246.7,371.1 254.2,366.1" fill="#4070ff"/><line x1="254.2" y1="366.1" x2="246.5" y2="371.3" stroke="#101070" stroke-width="0.6" stroke-opacity="0.45"/><polygon points="255.36,364.29 255.36,374.09 251.46,368.99" fill="#1400f0"/><polygon points="255.36,364.29 255.36,374.09 262.86,369.09" fill="#4070ff"/><line x1="262.86" y1="369.09" x2="255.16" y2="374.29" stroke="#101070" stroke-width="0.6" stroke-opacity="0.45"/><polygon points="216.2,305 321.5,340.6 321.5,353.27 319.94,351.28 315.68,353.89 311.28,348.29 307.02,350.9 302.62,345.3 298.36,347.91 293.96,342.31 289.7,344.92 285.3,339.32 281.04,341.93 276.64,336.33 272.38,338.94 267.98,333.34 263.72,335.95 259.32,330.35 255.06,332.96 250.66,327.36 246.4,329.97 242,324.37 237.74,326.98 233.34,321.38 229.08,323.99 224.68,318.39 220.42,321 216.2,315.63" fill="#a33c16"/><polygon points="321.5,340.6 334.8,336.4 334.8,349.6 327.6,358.8 321.5,356.8" fill="#e8561c"/><polygon points="216.2,305 226.9,301 334.8,336.4 321.5,340.6" fill="#e86634"/><line x1="216.2" y1="305.0" x2="321.5" y2="340.6" stroke="#f4b090" stroke-width="0.5"/><polygon points="147.62,337.85 154.12,343.05 152.62,347.75" fill="#4070ff"/><polygon points="156.28,340.84 162.78,346.04 161.28,350.74" fill="#4070ff"/><polygon points="164.94,343.83 171.44,349.03 169.94,353.73" fill="#4070ff"/><polygon points="173.6,346.82 180.1,352.02 178.6,356.72" fill="#4070ff"/><polygon points="182.26,349.81 188.76,355.01 187.26,359.71" fill="#4070ff"/><polygon points="190.92,352.8 197.42,358 195.92,362.7" fill="#4070ff"/><polygon points="199.58,355.79 206.08,360.99 204.58,365.69" fill="#4070ff"/><polygon points="208.24,358.78 214.74,363.98 213.24,368.68" fill="#4070ff"/><polygon points="216.9,361.77 223.4,366.97 221.9,371.67" fill="#4070ff"/><polygon points="225.56,364.76 232.06,369.96 230.56,374.66" fill="#4070ff"/><polygon points="234.22,367.75 240.72,372.95 239.22,377.65" fill="#4070ff"/><polygon points="242.88,370.74 249.38,375.94 247.88,380.64" fill="#4070ff"/><polygon points="251.54,373.73 258.04,378.93 256.54,383.63" fill="#4070ff"/></g>
</g>
<polygon points="265,467.6 272.3,470.8 272.3,461.5" fill="#a8400f"/>
<polygon points="272.3,455.1 291,449.9 291,465.6 272.3,472" fill="#e8541c"/>
<polygon points="371.9,435.3 384,439 384,433.5" fill="#a8400f"/>
<polygon points="383.7,426 399,420 399,433.5 383.7,439.2" fill="#e8541c"/>
<line x1="406.53" y1="326.74999999999994" x2="406.53" y2="428.24999999999994" stroke="#8a8aff" stroke-width="0.6"/>
<text x="421" y="299.5" font-family="Liberation Serif, serif" font-size="12.85" fill="#5c5c5c">Metal (screen-printed)</text>
<text x="421" y="314.9" font-family="Liberation Serif, serif" font-size="12.85" fill="#5c5c5c">MgF<tspan font-size="8.5" dy="3">2</tspan><tspan dy="-3"> (110 nm)</tspan></text>
<text x="421" y="329.8" font-family="Liberation Serif, serif" font-size="12.85" fill="#5c5c5c">TCO&#160; (75 nm)</text>
<text x="421.5" y="343.0" font-family="Liberation Serif, serif" font-weight="bold" font-size="12.85" fill="#1f3864" stroke="#1f3864" stroke-width="0.45" stroke-opacity="0.8">n-nc-SiO<tspan font-size="8.5" dy="3.8">x</tspan><tspan dy="-3.8">:H (17 nm)</tspan></text>
<text x="422.2" y="358.6" font-family="Liberation Serif, serif" font-size="12.85" fill="#5c5c5c">i-a-Si:H (4 nm)</text>
<text x="421.5" y="375.6" font-family="Liberation Serif, serif" font-size="12.85" fill="#5c5c5c">n-Si (CZ, 130 µm)</text>
<text x="420.7" y="391" font-family="Liberation Serif, serif" font-size="12.85" fill="#5c5c5c">i-a-Si:H (7 nm)</text>
<text x="420" y="406.1" font-family="Liberation Serif, serif" font-weight="bold" font-size="12.85" fill="#1f3864" stroke="#1f3864" stroke-width="0.45" stroke-opacity="0.8">p-nc-Si:H (30 nm)</text>
<text x="418.9" y="420" font-family="Liberation Serif, serif" font-size="12.85" fill="#5c5c5c">TCO&#160; (85 nm)</text>
<text x="422" y="435.2" font-family="Liberation Serif, serif" font-size="12.85" fill="#5c5c5c">MgF<tspan font-size="8.5" dy="3">2</tspan><tspan dy="-3"> (150 nm)</tspan></text>
<text x="421.5" y="450.1" font-family="Liberation Serif, serif" font-size="12.85" fill="#5c5c5c">Ag (evaporated, 100 nm)</text>
<text x="387.9" y="464.6" font-family="Liberation Serif, serif" font-size="12.85" fill="#5c5c5c">Metal (screen-printed)</text>
<polyline points="421,297.5 355.3,297.5 325.2,335.6" fill="none" stroke="#1f3050" stroke-width="1.35"/>
<polygon points="325.2,335.6 325.93,332.1 328.44,334.08" fill="#1f3050"/>
<polyline points="419.3,312.6 407.6,327.6" fill="none" stroke="#1f3050" stroke-width="1.35"/>
<polygon points="407.6,327.6 408.31,324.09 410.83,326.06" fill="#1f3050"/>
<polyline points="419.3,328.5 407.6,336.8" fill="none" stroke="#1f3050" stroke-width="1.35"/>
<polygon points="407.6,336.8 409.28,333.64 411.14,336.25" fill="#1f3050"/>
<polyline points="419.3,340.2 407.6,346" fill="none" stroke="#1f3050" stroke-width="1.35"/>
<polygon points="407.6,346 409.76,343.15 411.18,346.01" fill="#1f3050"/>
<polyline points="419.3,356.9 408.4,353.6" fill="none" stroke="#1f3050" stroke-width="1.35"/>
<polygon points="408.4,353.6 411.93,353 411,356.06" fill="#1f3050"/>
<polyline points="419.3,372.5 407.6,380.4" fill="none" stroke="#1f3050" stroke-width="1.35"/>
<polygon points="407.6,380.4 409.36,377.28 411.15,379.94" fill="#1f3050"/>
<polyline points="418.4,388.4 407.6,396.8" fill="none" stroke="#1f3050" stroke-width="1.35"/>
<polygon points="407.6,396.8 409.14,393.57 411.11,396.1" fill="#1f3050"/>
<polyline points="418.4,403.8 405.9,402.2" fill="none" stroke="#1f3050" stroke-width="1.35"/>
<polygon points="405.9,402.2 409.28,401.02 408.87,404.19" fill="#1f3050"/>
<polyline points="418.4,415.2 408.4,411" fill="none" stroke="#1f3050" stroke-width="1.35"/>
<polygon points="408.4,411 411.97,410.76 410.73,413.71" fill="#1f3050"/>
<polyline points="420.1,432 408.4,421.1" fill="none" stroke="#1f3050" stroke-width="1.35"/>
<polygon points="408.4,421.1 411.83,422.11 409.65,424.45" fill="#1f3050"/>
<polyline points="420,445 405.9,428.6" fill="none" stroke="#1f3050" stroke-width="1.35"/>
<polygon points="405.9,428.6 409.2,429.98 406.77,432.07" fill="#1f3050"/>
<polyline points="395.8,452.4 387.4,439.6" fill="none" stroke="#1f3050" stroke-width="1.35"/>
<polygon points="387.4,439.6 390.49,441.4 387.82,443.15" fill="#1f3050"/>
</svg></body></html>
